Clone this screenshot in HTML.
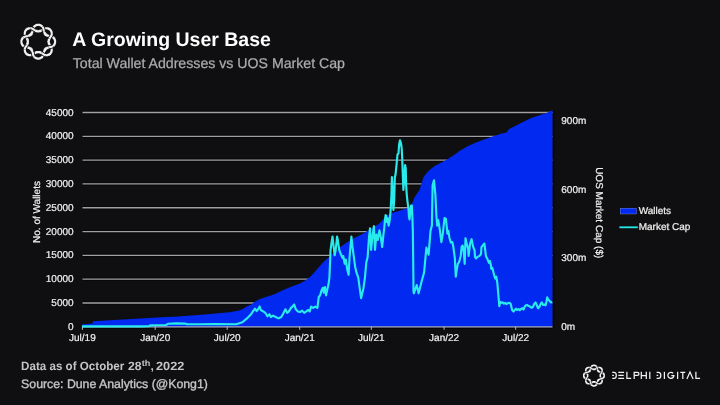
<!DOCTYPE html>
<html><head><meta charset="utf-8">
<style>
html,body{margin:0;padding:0;background:#101012;}
body{width:720px;height:405px;overflow:hidden;position:relative;font-family:"Liberation Sans",sans-serif;}
svg{position:absolute;left:0;top:0;will-change:transform;opacity:0.999;filter:blur(0.25px);}
</style></head>
<body>
<svg width="720" height="405" viewBox="0 0 720 405" font-family="Liberation Sans, sans-serif" text-rendering="geometricPrecision">
<rect width="720" height="405" fill="#101012"/>
<!-- logo -->
<polyline points="38.2,24.8 38.4,24.8 38.5,24.8 38.6,24.8 38.7,24.8 38.8,24.8 38.9,24.8 39.0,24.9 39.1,24.9 39.2,24.9 39.3,24.9 39.5,24.9 39.6,25.0 39.7,25.0 39.8,25.0 39.9,25.1 40.0,25.1 40.1,25.1 40.2,25.2 40.3,25.2 40.4,25.3 40.5,25.3 40.6,25.4 40.7,25.4 40.8,25.5 40.9,25.5 41.0,25.6 41.1,25.7 41.2,25.7 41.3,25.8 41.4,25.9 41.5,25.9 41.6,26.0 41.7,26.1 41.8,26.2 41.9,26.2 41.9,26.3 42.0,26.4 42.1,26.5 42.2,26.6 42.3,26.7 42.4,26.8 42.4,26.9 42.5,27.0 42.6,27.0 42.7,27.1 42.7,27.3 42.8,27.4 42.9,27.5 42.9,27.6 43.0,27.7 43.1,27.8 43.1,27.9 43.2,28.0 43.2,28.2 43.3,28.3 43.3,28.4 43.4,28.6 43.4,28.7 43.5,28.9 43.5,29.1 43.5,29.4 43.5,29.5 43.5,29.7 43.5,29.8 43.6,30.0 43.6,30.1 43.6,30.2 43.7,30.3 43.7,30.5 43.7,30.6 43.8,30.7 43.8,30.8 43.8,30.9 43.9,31.0 43.9,31.1 43.9,31.2 44.0,31.3 44.0,31.4 44.0,31.5 44.1,31.6 44.1,31.7 44.1,31.8 44.2,31.9 44.2,32.0 44.2,32.1 44.3,32.2 44.3,32.3 44.3,32.3 44.4,32.4 44.4,32.5 44.4,32.6 44.5,32.7 44.5,32.7 44.5,32.8 44.6,32.9 44.6,33.0 44.6,33.0 44.7,33.1 44.7,33.2 44.7,33.3 44.8,33.3 44.8,33.4 44.8,33.5 44.9,33.5 44.9,33.6 44.9,33.7 45.0,33.7 45.0,33.8 45.1,33.8 45.1,33.9 45.1,33.9 45.2,34.0 45.2,34.1 45.3,34.1 45.3,34.2 45.3,34.2 45.4,34.3 45.4,34.3 45.5,34.4 45.5,34.4 45.6,34.5 45.6,34.5 45.7,34.6 45.7,34.6 45.8,34.6 45.8,34.7 45.9,34.7 45.9,34.8 46.0,34.8 46.1,34.9 46.1,34.9 46.2,34.9 46.2,35.0 46.3,35.0 46.4,35.0 46.4,35.1 46.5,35.1 46.6,35.2 46.6,35.2 46.7,35.2 46.8,35.3 46.8,35.3 46.9,35.3 47.0,35.4 47.0,35.4 47.1,35.4 47.2,35.5 47.3,35.5 47.4,35.5 47.4,35.6 47.5,35.6 47.6,35.6 47.7,35.7 47.8,35.7 47.9,35.7 48.0,35.8 48.0,35.8 48.1,35.8 48.2,35.8 48.3,35.9 48.4,35.9 48.5,35.9 48.6,36.0 48.7,36.0 48.8,36.0 48.9,36.1 49.0,36.1 49.1,36.1 49.3,36.2 49.4,36.2 49.5,36.2 49.6,36.3 49.7,36.3 49.9,36.3 50.0,36.4 50.1,36.4 50.3,36.4 50.4,36.5 50.6,36.5 50.8,36.5 51.0,36.5 51.2,36.5 51.4,36.6 51.5,36.6 51.6,36.7 51.8,36.7 51.9,36.8 52.0,36.8 52.1,36.9 52.3,36.9 52.4,37.0 52.5,37.1 52.6,37.1 52.7,37.2 52.8,37.3 52.9,37.4 53.0,37.4 53.1,37.5 53.2,37.6 53.3,37.7 53.4,37.8 53.5,37.8 53.5,37.9 53.6,38.0 53.7,38.1 53.8,38.2 53.9,38.3 53.9,38.4 54.0,38.5 54.1,38.6 54.2,38.6 54.2,38.7 54.3,38.8 54.3,38.9 54.4,39.0 54.5,39.1 54.5,39.2 54.6,39.3 54.6,39.4 54.7,39.5 54.7,39.6 54.8,39.7 54.8,39.9 54.8,40.0 54.9,40.1 54.9,40.2 54.9,40.3 55.0,40.4 55.0,40.5 55.0,40.6 55.1,40.7 55.1,40.8 55.1,40.9 55.1,41.0 55.1,41.1 55.1,41.3 55.1,41.4 55.1,41.5 55.1,41.6 55.1,41.7 55.1,41.8 55.1,41.9 55.1,42.0 55.1,42.1 55.1,42.3 55.1,42.4 55.1,42.5 55.1,42.6 55.1,42.7 55.0,42.8 55.0,42.9 55.0,43.0 54.9,43.1 54.9,43.2 54.9,43.3 54.8,43.4 54.8,43.5 54.8,43.7 54.7,43.8 54.7,43.9 54.6,44.0 54.6,44.1 54.5,44.2 54.5,44.3 54.4,44.4 54.3,44.5 54.3,44.6 54.2,44.7 54.2,44.8 54.1,44.8 54.0,44.9 53.9,45.0 53.9,45.1 53.8,45.2 53.7,45.3 53.6,45.4 53.5,45.5 53.5,45.6 53.4,45.6 53.3,45.7 53.2,45.8 53.1,45.9 53.0,46.0 52.9,46.0 52.8,46.1 52.7,46.2 52.6,46.3 52.5,46.3 52.4,46.4 52.3,46.5 52.1,46.5 52.0,46.6 51.9,46.6 51.8,46.7 51.6,46.7 51.5,46.8 51.4,46.8 51.2,46.9 51.0,46.9 50.8,46.9 50.6,46.9 50.4,46.9 50.3,47.0 50.1,47.0 50.0,47.0 49.9,47.1 49.7,47.1 49.6,47.1 49.5,47.2 49.4,47.2 49.3,47.2 49.1,47.3 49.0,47.3 48.9,47.3 48.8,47.4 48.7,47.4 48.6,47.4 48.5,47.5 48.4,47.5 48.3,47.5 48.2,47.6 48.1,47.6 48.0,47.6 48.0,47.6 47.9,47.7 47.8,47.7 47.7,47.7 47.6,47.8 47.5,47.8 47.4,47.8 47.4,47.9 47.3,47.9 47.2,47.9 47.1,48.0 47.0,48.0 47.0,48.0 46.9,48.1 46.8,48.1 46.8,48.1 46.7,48.2 46.6,48.2 46.6,48.2 46.5,48.3 46.4,48.3 46.4,48.4 46.3,48.4 46.2,48.4 46.2,48.5 46.1,48.5 46.1,48.5 46.0,48.6 45.9,48.6 45.9,48.7 45.8,48.7 45.8,48.8 45.7,48.8 45.7,48.8 45.6,48.9 45.6,48.9 45.5,49.0 45.5,49.0 45.4,49.1 45.4,49.1 45.3,49.2 45.3,49.2 45.3,49.3 45.2,49.3 45.2,49.4 45.1,49.5 45.1,49.5 45.1,49.6 45.0,49.6 45.0,49.7 44.9,49.7 44.9,49.8 44.9,49.9 44.8,49.9 44.8,50.0 44.8,50.1 44.7,50.1 44.7,50.2 44.7,50.3 44.6,50.4 44.6,50.4 44.6,50.5 44.5,50.6 44.5,50.7 44.5,50.7 44.4,50.8 44.4,50.9 44.4,51.0 44.3,51.1 44.3,51.1 44.3,51.2 44.2,51.3 44.2,51.4 44.2,51.5 44.1,51.6 44.1,51.7 44.1,51.8 44.0,51.9 44.0,52.0 44.0,52.1 43.9,52.2 43.9,52.3 43.9,52.4 43.8,52.5 43.8,52.6 43.8,52.7 43.7,52.8 43.7,52.9 43.7,53.1 43.6,53.2 43.6,53.3 43.6,53.4 43.5,53.6 43.5,53.7 43.5,53.9 43.5,54.0 43.5,54.3 43.5,54.5 43.4,54.7 43.4,54.8 43.3,55.0 43.3,55.1 43.2,55.2 43.2,55.4 43.1,55.5 43.1,55.6 43.0,55.7 42.9,55.8 42.9,55.9 42.8,56.0 42.7,56.1 42.7,56.3 42.6,56.4 42.5,56.4 42.4,56.5 42.4,56.6 42.3,56.7 42.2,56.8 42.1,56.9 42.0,57.0 41.9,57.1 41.9,57.2 41.8,57.2 41.7,57.3 41.6,57.4 41.5,57.5 41.4,57.5 41.3,57.6 41.2,57.7 41.1,57.7 41.0,57.8 40.9,57.9 40.8,57.9 40.7,58.0 40.6,58.0 40.5,58.1 40.4,58.1 40.3,58.2 40.2,58.2 40.1,58.3 40.0,58.3 39.9,58.3 39.8,58.4 39.7,58.4 39.6,58.4 39.5,58.5 39.3,58.5 39.2,58.5 39.1,58.5 39.0,58.5 38.9,58.6 38.8,58.6 38.7,58.6 38.6,58.6 38.5,58.6 38.4,58.6 38.3,58.6 38.1,58.6 38.0,58.6 37.9,58.6 37.8,58.6 37.7,58.6 37.6,58.6 37.5,58.5 37.4,58.5 37.3,58.5 37.2,58.5 37.0,58.5 36.9,58.4 36.8,58.4 36.7,58.4 36.6,58.3 36.5,58.3 36.4,58.3 36.3,58.2 36.2,58.2 36.1,58.1 36.0,58.1 35.9,58.0 35.8,58.0 35.7,57.9 35.6,57.9 35.5,57.8 35.4,57.7 35.3,57.7 35.2,57.6 35.1,57.5 35.0,57.5 34.9,57.4 34.8,57.3 34.7,57.2 34.6,57.2 34.6,57.1 34.5,57.0 34.4,56.9 34.3,56.8 34.2,56.7 34.1,56.6 34.1,56.5 34.0,56.4 33.9,56.4 33.8,56.3 33.8,56.1 33.7,56.0 33.6,55.9 33.6,55.8 33.5,55.7 33.4,55.6 33.4,55.5 33.3,55.4 33.3,55.2 33.2,55.1 33.2,55.0 33.1,54.8 33.1,54.7 33.0,54.5 33.0,54.3 33.0,54.0 33.0,53.9 33.0,53.7 33.0,53.6 32.9,53.4 32.9,53.3 32.9,53.2 32.8,53.1 32.8,52.9 32.8,52.8 32.7,52.7 32.7,52.6 32.7,52.5 32.6,52.4 32.6,52.3 32.6,52.2 32.5,52.1 32.5,52.0 32.5,51.9 32.4,51.8 32.4,51.7 32.4,51.6 32.3,51.5 32.3,51.4 32.3,51.3 32.2,51.2 32.2,51.1 32.2,51.1 32.1,51.0 32.1,50.9 32.1,50.8 32.0,50.7 32.0,50.7 32.0,50.6 31.9,50.5 31.9,50.4 31.9,50.4 31.8,50.3 31.8,50.2 31.8,50.1 31.7,50.1 31.7,50.0 31.7,49.9 31.6,49.9 31.6,49.8 31.6,49.7 31.5,49.7 31.5,49.6 31.4,49.6 31.4,49.5 31.4,49.5 31.3,49.4 31.3,49.3 31.2,49.3 31.2,49.2 31.2,49.2 31.1,49.1 31.1,49.1 31.0,49.0 31.0,49.0 30.9,48.9 30.9,48.9 30.8,48.8 30.8,48.8 30.7,48.8 30.7,48.7 30.6,48.7 30.6,48.6 30.5,48.6 30.4,48.5 30.4,48.5 30.3,48.5 30.3,48.4 30.2,48.4 30.1,48.4 30.1,48.3 30.0,48.3 29.9,48.2 29.9,48.2 29.8,48.2 29.7,48.1 29.7,48.1 29.6,48.1 29.5,48.0 29.5,48.0 29.4,48.0 29.3,47.9 29.2,47.9 29.1,47.9 29.1,47.8 29.0,47.8 28.9,47.8 28.8,47.7 28.7,47.7 28.6,47.7 28.5,47.6 28.5,47.6 28.4,47.6 28.3,47.6 28.2,47.5 28.1,47.5 28.0,47.5 27.9,47.4 27.8,47.4 27.7,47.4 27.6,47.3 27.5,47.3 27.4,47.3 27.2,47.2 27.1,47.2 27.0,47.2 26.9,47.1 26.8,47.1 26.6,47.1 26.5,47.0 26.4,47.0 26.2,47.0 26.1,46.9 25.9,46.9 25.7,46.9 25.5,46.9 25.3,46.9 25.1,46.8 25.0,46.8 24.9,46.7 24.7,46.7 24.6,46.6 24.5,46.6 24.4,46.5 24.2,46.5 24.1,46.4 24.0,46.3 23.9,46.3 23.8,46.2 23.7,46.1 23.6,46.0 23.5,46.0 23.4,45.9 23.3,45.8 23.2,45.7 23.1,45.6 23.0,45.6 23.0,45.5 22.9,45.4 22.8,45.3 22.7,45.2 22.6,45.1 22.6,45.0 22.5,44.9 22.4,44.8 22.3,44.8 22.3,44.7 22.2,44.6 22.2,44.5 22.1,44.4 22.0,44.3 22.0,44.2 21.9,44.1 21.9,44.0 21.8,43.9 21.8,43.8 21.7,43.7 21.7,43.5 21.7,43.4 21.6,43.3 21.6,43.2 21.6,43.1 21.5,43.0 21.5,42.9 21.5,42.8 21.4,42.7 21.4,42.6 21.4,42.5 21.4,42.4 21.4,42.3 21.4,42.1 21.4,42.0 21.4,41.9 21.4,41.8 21.4,41.7 21.4,41.6 21.4,41.5 21.4,41.4 21.4,41.3 21.4,41.1 21.4,41.0 21.4,40.9 21.4,40.8 21.4,40.7 21.5,40.6 21.5,40.5 21.5,40.4 21.6,40.3 21.6,40.2 21.6,40.1 21.7,40.0 21.7,39.9 21.7,39.7 21.8,39.6 21.8,39.5 21.9,39.4 21.9,39.3 22.0,39.2 22.0,39.1 22.1,39.0 22.2,38.9 22.2,38.8 22.3,38.7 22.3,38.6 22.4,38.6 22.5,38.5 22.6,38.4 22.6,38.3 22.7,38.2 22.8,38.1 22.9,38.0 23.0,37.9 23.0,37.8 23.1,37.8 23.2,37.7 23.3,37.6 23.4,37.5 23.5,37.4 23.6,37.4 23.7,37.3 23.8,37.2 23.9,37.1 24.0,37.1 24.1,37.0 24.2,36.9 24.4,36.9 24.5,36.8 24.6,36.8 24.7,36.7 24.9,36.7 25.0,36.6 25.1,36.6 25.3,36.5 25.5,36.5 25.7,36.5 25.9,36.5 26.1,36.5 26.2,36.4 26.4,36.4 26.5,36.4 26.6,36.3 26.8,36.3 26.9,36.3 27.0,36.2 27.1,36.2 27.2,36.2 27.4,36.1 27.5,36.1 27.6,36.1 27.7,36.0 27.8,36.0 27.9,36.0 28.0,35.9 28.1,35.9 28.2,35.9 28.3,35.8 28.4,35.8 28.5,35.8 28.5,35.8 28.6,35.7 28.7,35.7 28.8,35.7 28.9,35.6 29.0,35.6 29.1,35.6 29.1,35.5 29.2,35.5 29.3,35.5 29.4,35.4 29.5,35.4 29.5,35.4 29.6,35.3 29.7,35.3 29.7,35.3 29.8,35.2 29.9,35.2 29.9,35.2 30.0,35.1 30.1,35.1 30.1,35.0 30.2,35.0 30.3,35.0 30.3,34.9 30.4,34.9 30.4,34.9 30.5,34.8 30.6,34.8 30.6,34.7 30.7,34.7 30.7,34.6 30.8,34.6 30.8,34.6 30.9,34.5 30.9,34.5 31.0,34.4 31.0,34.4 31.1,34.3 31.1,34.3 31.2,34.2 31.2,34.2 31.2,34.1 31.3,34.1 31.3,34.0 31.4,33.9 31.4,33.9 31.4,33.8 31.5,33.8 31.5,33.7 31.6,33.7 31.6,33.6 31.6,33.5 31.7,33.5 31.7,33.4 31.7,33.3 31.8,33.3 31.8,33.2 31.8,33.1 31.9,33.0 31.9,33.0 31.9,32.9 32.0,32.8 32.0,32.7 32.0,32.7 32.1,32.6 32.1,32.5 32.1,32.4 32.2,32.3 32.2,32.3 32.2,32.2 32.3,32.1 32.3,32.0 32.3,31.9 32.4,31.8 32.4,31.7 32.4,31.6 32.5,31.5 32.5,31.4 32.5,31.3 32.6,31.2 32.6,31.1 32.6,31.0 32.7,30.9 32.7,30.8 32.7,30.7 32.8,30.6 32.8,30.5 32.8,30.3 32.9,30.2 32.9,30.1 32.9,30.0 33.0,29.8 33.0,29.7 33.0,29.5 33.0,29.4 33.0,29.1 33.0,28.9 33.1,28.7 33.1,28.6 33.2,28.4 33.2,28.3 33.3,28.2 33.3,28.0 33.4,27.9 33.4,27.8 33.5,27.7 33.6,27.6 33.6,27.5 33.7,27.4 33.8,27.3 33.8,27.1 33.9,27.0 34.0,27.0 34.1,26.9 34.1,26.8 34.2,26.7 34.3,26.6 34.4,26.5 34.5,26.4 34.6,26.3 34.6,26.2 34.7,26.2 34.8,26.1 34.9,26.0 35.0,25.9 35.1,25.9 35.2,25.8 35.3,25.7 35.4,25.7 35.5,25.6 35.6,25.5 35.7,25.5 35.8,25.4 35.9,25.4 36.0,25.3 36.1,25.3 36.2,25.2 36.3,25.2 36.4,25.1 36.5,25.1 36.6,25.1 36.7,25.0 36.8,25.0 36.9,25.0 37.0,24.9 37.2,24.9 37.3,24.9 37.4,24.9 37.5,24.9 37.6,24.8 37.7,24.8 37.8,24.8 37.9,24.8 38.0,24.8 38.1,24.8 38.2,24.8" fill="none" stroke="#f2f2f2" stroke-width="2.1"/>
<polyline points="38.2,31.4 38.3,31.4 38.4,31.4 38.5,31.4 38.5,31.4 38.6,31.4 38.7,31.4 38.7,31.4 38.8,31.4 38.9,31.3 38.9,31.3 39.0,31.3 39.1,31.3 39.1,31.3 39.2,31.3 39.3,31.3 39.3,31.2 39.4,31.2 39.5,31.2 39.6,31.2 39.6,31.2 39.7,31.1 39.8,31.1 39.9,31.1 39.9,31.0 40.0,31.0 40.1,31.0 40.2,31.0 40.2,30.9 40.3,30.9 40.4,30.9 40.5,30.8 40.6,30.8 40.7,30.7 40.7,30.7 40.8,30.7 40.9,30.6 41.0,30.6 41.1,30.5 41.2,30.5 41.3,30.5 41.4,30.4 41.4,30.4 41.5,30.3 41.6,30.3 41.7,30.2 41.8,30.2 41.9,30.1 42.0,30.1 42.1,30.0 42.2,30.0 42.3,29.9 42.5,29.8 42.6,29.8 42.7,29.7 42.8,29.6 42.9,29.6 43.0,29.5 43.2,29.4 43.3,29.3 43.5,29.1 43.6,29.0 43.8,28.9 43.9,28.8 44.0,28.7 44.2,28.7 44.3,28.6 44.4,28.6 44.5,28.5 44.7,28.5 44.8,28.4 44.9,28.4 45.0,28.4 45.2,28.3 45.3,28.3 45.4,28.3 45.5,28.3 45.7,28.3 45.8,28.2 45.9,28.2 46.0,28.2 46.2,28.2 46.3,28.2 46.4,28.2 46.5,28.2 46.6,28.2 46.8,28.2 46.9,28.2 47.0,28.2 47.1,28.3 47.2,28.3 47.3,28.3 47.4,28.3 47.6,28.3 47.7,28.4 47.8,28.4 47.9,28.4 48.0,28.5 48.1,28.5 48.2,28.5 48.3,28.6 48.4,28.6 48.5,28.6 48.6,28.7 48.7,28.7 48.9,28.8 49.0,28.8 49.0,28.9 49.1,28.9 49.2,29.0 49.3,29.1 49.4,29.1 49.5,29.2 49.6,29.2 49.7,29.3 49.8,29.4 49.9,29.5 50.0,29.5 50.0,29.6 50.1,29.7 50.2,29.7 50.3,29.8 50.4,29.9 50.4,30.0 50.5,30.1 50.6,30.2 50.6,30.2 50.7,30.3 50.8,30.4 50.8,30.5 50.9,30.6 51.0,30.7 51.0,30.8 51.1,30.9 51.1,31.0 51.2,31.1 51.2,31.2 51.3,31.3 51.3,31.4 51.3,31.5 51.4,31.6 51.4,31.7 51.5,31.8 51.5,31.9 51.5,32.1 51.6,32.2 51.6,32.3 51.6,32.4 51.6,32.5 51.7,32.6 51.7,32.7 51.7,32.8 51.7,33.0 51.7,33.1 51.7,33.2 51.7,33.3 51.7,33.4 51.7,33.6 51.7,33.7 51.7,33.8 51.7,33.9 51.7,34.0 51.7,34.2 51.7,34.3 51.7,34.4 51.7,34.5 51.6,34.7 51.6,34.8 51.6,34.9 51.6,35.0 51.5,35.2 51.5,35.3 51.4,35.4 51.4,35.5 51.3,35.7 51.3,35.8 51.2,35.9 51.2,36.1 51.1,36.2 51.0,36.3 50.8,36.5 50.6,36.7 50.5,36.8 50.5,36.9 50.4,37.0 50.3,37.2 50.2,37.3 50.2,37.4 50.1,37.5 50.1,37.6 50.0,37.7 49.9,37.8 49.9,37.9 49.8,38.0 49.8,38.1 49.7,38.2 49.7,38.3 49.6,38.4 49.6,38.5 49.5,38.6 49.5,38.7 49.4,38.8 49.4,38.9 49.4,39.0 49.3,39.0 49.3,39.1 49.2,39.2 49.2,39.3 49.2,39.4 49.1,39.5 49.1,39.5 49.1,39.6 49.0,39.7 49.0,39.8 49.0,39.9 48.9,39.9 48.9,40.0 48.9,40.1 48.8,40.2 48.8,40.2 48.8,40.3 48.8,40.4 48.8,40.5 48.7,40.5 48.7,40.6 48.7,40.7 48.7,40.7 48.7,40.8 48.6,40.9 48.6,41.0 48.6,41.0 48.6,41.1 48.6,41.2 48.6,41.2 48.6,41.3 48.6,41.4 48.6,41.4 48.6,41.5 48.6,41.6 48.6,41.6 48.5,41.7 48.6,41.8 48.6,41.8 48.6,41.9 48.6,42.0 48.6,42.0 48.6,42.1 48.6,42.2 48.6,42.2 48.6,42.3 48.6,42.4 48.6,42.4 48.6,42.5 48.7,42.6 48.7,42.7 48.7,42.7 48.7,42.8 48.7,42.9 48.8,42.9 48.8,43.0 48.8,43.1 48.8,43.2 48.8,43.2 48.9,43.3 48.9,43.4 48.9,43.5 49.0,43.5 49.0,43.6 49.0,43.7 49.1,43.8 49.1,43.9 49.1,43.9 49.2,44.0 49.2,44.1 49.2,44.2 49.3,44.3 49.3,44.4 49.4,44.4 49.4,44.5 49.4,44.6 49.5,44.7 49.5,44.8 49.6,44.9 49.6,45.0 49.7,45.1 49.7,45.2 49.8,45.3 49.8,45.4 49.9,45.5 49.9,45.6 50.0,45.7 50.1,45.8 50.1,45.9 50.2,46.0 50.2,46.1 50.3,46.2 50.4,46.4 50.5,46.5 50.5,46.6 50.6,46.7 50.8,46.9 51.0,47.1 51.1,47.2 51.2,47.3 51.2,47.5 51.3,47.6 51.3,47.7 51.4,47.9 51.4,48.0 51.5,48.1 51.5,48.2 51.6,48.4 51.6,48.5 51.6,48.6 51.6,48.7 51.7,48.9 51.7,49.0 51.7,49.1 51.7,49.2 51.7,49.4 51.7,49.5 51.7,49.6 51.7,49.7 51.7,49.8 51.7,50.0 51.7,50.1 51.7,50.2 51.7,50.3 51.7,50.4 51.7,50.6 51.7,50.7 51.7,50.8 51.6,50.9 51.6,51.0 51.6,51.1 51.6,51.2 51.5,51.3 51.5,51.5 51.5,51.6 51.4,51.7 51.4,51.8 51.3,51.9 51.3,52.0 51.3,52.1 51.2,52.2 51.2,52.3 51.1,52.4 51.1,52.5 51.0,52.6 51.0,52.7 50.9,52.8 50.8,52.9 50.8,53.0 50.7,53.1 50.6,53.2 50.6,53.2 50.5,53.3 50.4,53.4 50.4,53.5 50.3,53.6 50.2,53.7 50.1,53.7 50.0,53.8 50.0,53.9 49.9,53.9 49.8,54.0 49.7,54.1 49.6,54.2 49.5,54.2 49.4,54.3 49.3,54.3 49.2,54.4 49.1,54.5 49.0,54.5 49.0,54.6 48.9,54.6 48.7,54.7 48.6,54.7 48.5,54.8 48.4,54.8 48.3,54.8 48.2,54.9 48.1,54.9 48.0,54.9 47.9,55.0 47.8,55.0 47.7,55.0 47.6,55.1 47.4,55.1 47.3,55.1 47.2,55.1 47.1,55.1 47.0,55.2 46.9,55.2 46.8,55.2 46.6,55.2 46.5,55.2 46.4,55.2 46.3,55.2 46.2,55.2 46.0,55.2 45.9,55.2 45.8,55.2 45.7,55.1 45.5,55.1 45.4,55.1 45.3,55.1 45.2,55.1 45.0,55.0 44.9,55.0 44.8,55.0 44.7,54.9 44.5,54.9 44.4,54.8 44.3,54.8 44.2,54.7 44.0,54.7 43.9,54.6 43.8,54.5 43.6,54.4 43.5,54.3 43.3,54.1 43.2,54.0 43.0,53.9 42.9,53.8 42.8,53.8 42.7,53.7 42.6,53.6 42.5,53.6 42.3,53.5 42.2,53.4 42.1,53.4 42.0,53.3 41.9,53.3 41.8,53.2 41.7,53.2 41.6,53.1 41.5,53.1 41.4,53.0 41.4,53.0 41.3,52.9 41.2,52.9 41.1,52.9 41.0,52.8 40.9,52.8 40.8,52.7 40.7,52.7 40.7,52.7 40.6,52.6 40.5,52.6 40.4,52.5 40.3,52.5 40.2,52.5 40.2,52.4 40.1,52.4 40.0,52.4 39.9,52.4 39.9,52.3 39.8,52.3 39.7,52.3 39.6,52.2 39.6,52.2 39.5,52.2 39.4,52.2 39.3,52.2 39.3,52.1 39.2,52.1 39.1,52.1 39.1,52.1 39.0,52.1 38.9,52.1 38.9,52.1 38.8,52.0 38.7,52.0 38.7,52.0 38.6,52.0 38.5,52.0 38.5,52.0 38.4,52.0 38.3,52.0 38.3,52.0 38.2,52.0 38.1,52.0 38.0,52.0 38.0,52.0 37.9,52.0 37.8,52.0 37.8,52.0 37.7,52.0 37.6,52.1 37.6,52.1 37.5,52.1 37.4,52.1 37.4,52.1 37.3,52.1 37.2,52.1 37.2,52.2 37.1,52.2 37.0,52.2 36.9,52.2 36.9,52.2 36.8,52.3 36.7,52.3 36.6,52.3 36.6,52.4 36.5,52.4 36.4,52.4 36.3,52.4 36.3,52.5 36.2,52.5 36.1,52.5 36.0,52.6 35.9,52.6 35.8,52.7 35.8,52.7 35.7,52.7 35.6,52.8 35.5,52.8 35.4,52.9 35.3,52.9 35.2,52.9 35.1,53.0 35.1,53.0 35.0,53.1 34.9,53.1 34.8,53.2 34.7,53.2 34.6,53.3 34.5,53.3 34.4,53.4 34.3,53.4 34.2,53.5 34.0,53.6 33.9,53.6 33.8,53.7 33.7,53.8 33.6,53.8 33.5,53.9 33.3,54.0 33.2,54.1 33.0,54.3 32.9,54.4 32.7,54.5 32.6,54.6 32.5,54.7 32.3,54.7 32.2,54.8 32.1,54.8 32.0,54.9 31.8,54.9 31.7,55.0 31.6,55.0 31.5,55.0 31.3,55.1 31.2,55.1 31.1,55.1 31.0,55.1 30.8,55.1 30.7,55.2 30.6,55.2 30.5,55.2 30.3,55.2 30.2,55.2 30.1,55.2 30.0,55.2 29.9,55.2 29.7,55.2 29.6,55.2 29.5,55.2 29.4,55.1 29.3,55.1 29.2,55.1 29.1,55.1 28.9,55.1 28.8,55.0 28.7,55.0 28.6,55.0 28.5,54.9 28.4,54.9 28.3,54.9 28.2,54.8 28.1,54.8 28.0,54.8 27.9,54.7 27.8,54.7 27.6,54.6 27.5,54.6 27.5,54.5 27.4,54.5 27.3,54.4 27.2,54.3 27.1,54.3 27.0,54.2 26.9,54.2 26.8,54.1 26.7,54.0 26.6,53.9 26.5,53.9 26.5,53.8 26.4,53.7 26.3,53.7 26.2,53.6 26.1,53.5 26.1,53.4 26.0,53.3 25.9,53.2 25.9,53.2 25.8,53.1 25.7,53.0 25.7,52.9 25.6,52.8 25.5,52.7 25.5,52.6 25.4,52.5 25.4,52.4 25.3,52.3 25.3,52.2 25.2,52.1 25.2,52.0 25.2,51.9 25.1,51.8 25.1,51.7 25.0,51.6 25.0,51.5 25.0,51.3 24.9,51.2 24.9,51.1 24.9,51.0 24.9,50.9 24.8,50.8 24.8,50.7 24.8,50.6 24.8,50.4 24.8,50.3 24.8,50.2 24.8,50.1 24.8,50.0 24.8,49.8 24.8,49.7 24.8,49.6 24.8,49.5 24.8,49.4 24.8,49.2 24.8,49.1 24.8,49.0 24.8,48.9 24.9,48.7 24.9,48.6 24.9,48.5 24.9,48.4 25.0,48.2 25.0,48.1 25.1,48.0 25.1,47.9 25.2,47.7 25.2,47.6 25.3,47.5 25.3,47.3 25.4,47.2 25.5,47.1 25.7,46.9 25.9,46.7 26.0,46.6 26.0,46.5 26.1,46.4 26.2,46.2 26.3,46.1 26.3,46.0 26.4,45.9 26.4,45.8 26.5,45.7 26.6,45.6 26.6,45.5 26.7,45.4 26.7,45.3 26.8,45.2 26.8,45.1 26.9,45.0 26.9,44.9 27.0,44.8 27.0,44.7 27.1,44.6 27.1,44.5 27.1,44.4 27.2,44.4 27.2,44.3 27.3,44.2 27.3,44.1 27.3,44.0 27.4,43.9 27.4,43.9 27.4,43.8 27.5,43.7 27.5,43.6 27.5,43.5 27.6,43.5 27.6,43.4 27.6,43.3 27.7,43.2 27.7,43.2 27.7,43.1 27.7,43.0 27.7,42.9 27.8,42.9 27.8,42.8 27.8,42.7 27.8,42.7 27.8,42.6 27.9,42.5 27.9,42.4 27.9,42.4 27.9,42.3 27.9,42.2 27.9,42.2 27.9,42.1 27.9,42.0 27.9,42.0 27.9,41.9 27.9,41.8 27.9,41.8 27.9,41.7 27.9,41.6 27.9,41.6 27.9,41.5 27.9,41.4 27.9,41.4 27.9,41.3 27.9,41.2 27.9,41.2 27.9,41.1 27.9,41.0 27.9,41.0 27.9,40.9 27.8,40.8 27.8,40.7 27.8,40.7 27.8,40.6 27.8,40.5 27.7,40.5 27.7,40.4 27.7,40.3 27.7,40.2 27.7,40.2 27.6,40.1 27.6,40.0 27.6,39.9 27.5,39.9 27.5,39.8 27.5,39.7 27.4,39.6 27.4,39.5 27.4,39.5 27.3,39.4 27.3,39.3 27.3,39.2 27.2,39.1 27.2,39.0 27.1,39.0 27.1,38.9 27.1,38.8 27.0,38.7 27.0,38.6 26.9,38.5 26.9,38.4 26.8,38.3 26.8,38.2 26.7,38.1 26.7,38.0 26.6,37.9 26.6,37.8 26.5,37.7 26.4,37.6 26.4,37.5 26.3,37.4 26.3,37.3 26.2,37.2 26.1,37.0 26.0,36.9 26.0,36.8 25.9,36.7 25.7,36.5 25.5,36.3 25.4,36.2 25.3,36.1 25.3,35.9 25.2,35.8 25.2,35.7 25.1,35.5 25.1,35.4 25.0,35.3 25.0,35.2 24.9,35.0 24.9,34.9 24.9,34.8 24.9,34.7 24.8,34.5 24.8,34.4 24.8,34.3 24.8,34.2 24.8,34.0 24.8,33.9 24.8,33.8 24.8,33.7 24.8,33.6 24.8,33.4 24.8,33.3 24.8,33.2 24.8,33.1 24.8,33.0 24.8,32.8 24.8,32.7 24.8,32.6 24.9,32.5 24.9,32.4 24.9,32.3 24.9,32.2 25.0,32.1 25.0,31.9 25.0,31.8 25.1,31.7 25.1,31.6 25.2,31.5 25.2,31.4 25.2,31.3 25.3,31.2 25.3,31.1 25.4,31.0 25.4,30.9 25.5,30.8 25.5,30.7 25.6,30.6 25.7,30.5 25.7,30.4 25.8,30.3 25.9,30.2 25.9,30.2 26.0,30.1 26.1,30.0 26.1,29.9 26.2,29.8 26.3,29.7 26.4,29.7 26.5,29.6 26.5,29.5 26.6,29.5 26.7,29.4 26.8,29.3 26.9,29.2 27.0,29.2 27.1,29.1 27.2,29.1 27.3,29.0 27.4,28.9 27.5,28.9 27.5,28.8 27.6,28.8 27.8,28.7 27.9,28.7 28.0,28.6 28.1,28.6 28.2,28.6 28.3,28.5 28.4,28.5 28.5,28.5 28.6,28.4 28.7,28.4 28.8,28.4 28.9,28.3 29.1,28.3 29.2,28.3 29.3,28.3 29.4,28.3 29.5,28.2 29.6,28.2 29.7,28.2 29.9,28.2 30.0,28.2 30.1,28.2 30.2,28.2 30.3,28.2 30.5,28.2 30.6,28.2 30.7,28.2 30.8,28.3 31.0,28.3 31.1,28.3 31.2,28.3 31.3,28.3 31.5,28.4 31.6,28.4 31.7,28.4 31.8,28.5 32.0,28.5 32.1,28.6 32.2,28.6 32.3,28.7 32.5,28.7 32.6,28.8 32.7,28.9 32.9,29.0 33.0,29.1 33.2,29.3 33.3,29.4 33.5,29.5 33.6,29.6 33.7,29.6 33.8,29.7 33.9,29.8 34.0,29.8 34.2,29.9 34.3,30.0 34.4,30.0 34.5,30.1 34.6,30.1 34.7,30.2 34.8,30.2 34.9,30.3 35.0,30.3 35.1,30.4 35.1,30.4 35.2,30.5 35.3,30.5 35.4,30.5 35.5,30.6 35.6,30.6 35.7,30.7 35.8,30.7 35.8,30.7 35.9,30.8 36.0,30.8 36.1,30.9 36.2,30.9 36.3,30.9 36.3,31.0 36.4,31.0 36.5,31.0 36.6,31.0 36.6,31.1 36.7,31.1 36.8,31.1 36.9,31.2 36.9,31.2 37.0,31.2 37.1,31.2 37.2,31.2 37.2,31.3 37.3,31.3 37.4,31.3 37.4,31.3 37.5,31.3 37.6,31.3 37.6,31.3 37.7,31.4 37.8,31.4 37.8,31.4 37.9,31.4 38.0,31.4 38.0,31.4 38.1,31.4 38.2,31.4 38.2,31.4" fill="none" stroke="#f2f2f2" stroke-width="2.1"/>
<polyline points="42.4,26.8 42.6,27.0 42.7,27.2 42.8,27.4 42.9,27.6 43.1,27.8 43.2,28.0 43.3,28.2 43.4,28.5 43.4,28.8 43.5,29.1 43.5,29.5 43.5,29.8 43.6,30.0 43.6,30.3 43.7,30.5 43.8,30.7 43.8,30.9 43.9,31.1 44.0,31.3 44.0,31.5" fill="none" stroke="#101012" stroke-width="3.7"/>
<polyline points="42.4,26.8 42.6,27.0 42.7,27.2 42.8,27.4 42.9,27.6 43.1,27.8 43.2,28.0 43.3,28.2 43.4,28.5 43.4,28.8 43.5,29.1 43.5,29.5 43.5,29.8 43.6,30.0 43.6,30.3 43.7,30.5 43.8,30.7 43.8,30.9 43.9,31.1 44.0,31.3 44.0,31.5" fill="none" stroke="#f2f2f2" stroke-width="2.1"/>
<polyline points="51.7,34.1 51.7,34.3 51.7,34.6 51.6,34.8 51.6,35.0 51.5,35.3 51.4,35.5 51.3,35.7 51.2,36.0 51.1,36.2 50.8,36.5 50.6,36.8 50.4,37.0 50.3,37.2 50.2,37.4 50.0,37.6 49.9,37.8 49.8,38.0 49.7,38.2 49.7,38.4 49.6,38.5" fill="none" stroke="#101012" stroke-width="3.7"/>
<polyline points="51.7,34.1 51.7,34.3 51.7,34.6 51.6,34.8 51.6,35.0 51.5,35.3 51.4,35.5 51.3,35.7 51.2,36.0 51.1,36.2 50.8,36.5 50.6,36.8 50.4,37.0 50.3,37.2 50.2,37.4 50.0,37.6 49.9,37.8 49.8,38.0 49.7,38.2 49.7,38.4 49.6,38.5" fill="none" stroke="#f2f2f2" stroke-width="2.1"/>
<polyline points="53.1,45.9 53.0,46.0 52.8,46.1 52.6,46.3 52.4,46.4 52.2,46.5 51.9,46.6 51.7,46.7 51.5,46.8 51.2,46.9 50.8,46.9 50.4,46.9 50.2,47.0 49.9,47.0 49.7,47.1 49.5,47.2 49.3,47.2 49.1,47.3 48.9,47.3 48.7,47.4 48.5,47.5" fill="none" stroke="#101012" stroke-width="3.7"/>
<polyline points="53.1,45.9 53.0,46.0 52.8,46.1 52.6,46.3 52.4,46.4 52.2,46.5 51.9,46.6 51.7,46.7 51.5,46.8 51.2,46.9 50.8,46.9 50.4,46.9 50.2,47.0 49.9,47.0 49.7,47.1 49.5,47.2 49.3,47.2 49.1,47.3 48.9,47.3 48.7,47.4 48.5,47.5" fill="none" stroke="#f2f2f2" stroke-width="2.1"/>
<polyline points="45.8,55.2 45.6,55.1 45.4,55.1 45.1,55.1 44.9,55.0 44.7,54.9 44.5,54.9 44.2,54.8 44.0,54.7 43.7,54.5 43.5,54.3 43.2,54.0 42.9,53.9 42.7,53.7 42.5,53.6 42.3,53.5 42.1,53.4 41.9,53.3 41.8,53.2 41.6,53.1 41.4,53.0" fill="none" stroke="#101012" stroke-width="3.7"/>
<polyline points="45.8,55.2 45.6,55.1 45.4,55.1 45.1,55.1 44.9,55.0 44.7,54.9 44.5,54.9 44.2,54.8 44.0,54.7 43.7,54.5 43.5,54.3 43.2,54.0 42.9,53.9 42.7,53.7 42.5,53.6 42.3,53.5 42.1,53.4 41.9,53.3 41.8,53.2 41.6,53.1 41.4,53.0" fill="none" stroke="#f2f2f2" stroke-width="2.1"/>
<polyline points="34.1,56.6 33.9,56.4 33.8,56.2 33.7,56.0 33.6,55.8 33.4,55.6 33.3,55.4 33.2,55.2 33.1,54.9 33.1,54.6 33.0,54.3 33.0,53.9 33.0,53.6 32.9,53.4 32.9,53.1 32.8,52.9 32.7,52.7 32.7,52.5 32.6,52.3 32.5,52.1 32.5,51.9" fill="none" stroke="#101012" stroke-width="3.7"/>
<polyline points="34.1,56.6 33.9,56.4 33.8,56.2 33.7,56.0 33.6,55.8 33.4,55.6 33.3,55.4 33.2,55.2 33.1,54.9 33.1,54.6 33.0,54.3 33.0,53.9 33.0,53.6 32.9,53.4 32.9,53.1 32.8,52.9 32.7,52.7 32.7,52.5 32.6,52.3 32.5,52.1 32.5,51.9" fill="none" stroke="#f2f2f2" stroke-width="2.1"/>
<polyline points="24.8,49.3 24.8,49.1 24.8,48.8 24.9,48.6 24.9,48.4 25.0,48.1 25.1,47.9 25.2,47.7 25.3,47.4 25.4,47.2 25.7,46.9 25.9,46.6 26.1,46.4 26.2,46.2 26.3,46.0 26.5,45.8 26.6,45.6 26.7,45.4 26.8,45.2 26.8,45.0 26.9,44.9" fill="none" stroke="#101012" stroke-width="3.7"/>
<polyline points="24.8,49.3 24.8,49.1 24.8,48.8 24.9,48.6 24.9,48.4 25.0,48.1 25.1,47.9 25.2,47.7 25.3,47.4 25.4,47.2 25.7,46.9 25.9,46.6 26.1,46.4 26.2,46.2 26.3,46.0 26.5,45.8 26.6,45.6 26.7,45.4 26.8,45.2 26.8,45.0 26.9,44.9" fill="none" stroke="#f2f2f2" stroke-width="2.1"/>
<polyline points="23.4,37.5 23.5,37.4 23.7,37.3 23.9,37.1 24.1,37.0 24.3,36.9 24.6,36.8 24.8,36.7 25.0,36.6 25.3,36.5 25.7,36.5 26.1,36.5 26.3,36.4 26.6,36.4 26.8,36.3 27.0,36.2 27.2,36.2 27.4,36.1 27.6,36.1 27.8,36.0 28.0,35.9" fill="none" stroke="#101012" stroke-width="3.7"/>
<polyline points="23.4,37.5 23.5,37.4 23.7,37.3 23.9,37.1 24.1,37.0 24.3,36.9 24.6,36.8 24.8,36.7 25.0,36.6 25.3,36.5 25.7,36.5 26.1,36.5 26.3,36.4 26.6,36.4 26.8,36.3 27.0,36.2 27.2,36.2 27.4,36.1 27.6,36.1 27.8,36.0 28.0,35.9" fill="none" stroke="#f2f2f2" stroke-width="2.1"/>
<polyline points="30.7,28.2 30.9,28.3 31.1,28.3 31.4,28.3 31.6,28.4 31.8,28.5 32.0,28.5 32.3,28.6 32.5,28.7 32.8,28.9 33.0,29.1 33.3,29.4 33.6,29.5 33.8,29.7 34.0,29.8 34.2,29.9 34.4,30.0 34.6,30.1 34.7,30.2 34.9,30.3 35.1,30.4" fill="none" stroke="#101012" stroke-width="3.7"/>
<polyline points="30.7,28.2 30.9,28.3 31.1,28.3 31.4,28.3 31.6,28.4 31.8,28.5 32.0,28.5 32.3,28.6 32.5,28.7 32.8,28.9 33.0,29.1 33.3,29.4 33.6,29.5 33.8,29.7 34.0,29.8 34.2,29.9 34.4,30.0 34.6,30.1 34.7,30.2 34.9,30.3 35.1,30.4" fill="none" stroke="#f2f2f2" stroke-width="2.1"/>
<text x="72.2" y="45.8" font-size="19.5" font-weight="bold" fill="#ffffff">A Growing User Base</text>
<text x="72.8" y="68.4" font-size="14.15" fill="#adadb0" stroke="#adadb0" stroke-width="0.25">Total Wallet Addresses vs UOS Market Cap</text>
<!-- grid -->
<line x1="82.5" x2="552.5" y1="112.50" y2="112.50" stroke="#08090b" stroke-width="3.6"/>
<line x1="82.5" x2="552.5" y1="112.50" y2="112.50" stroke="#a2a2a5" stroke-width="1.35"/>
<line x1="82.5" x2="552.5" y1="136.31" y2="136.31" stroke="#08090b" stroke-width="3.6"/>
<line x1="82.5" x2="552.5" y1="136.31" y2="136.31" stroke="#a2a2a5" stroke-width="1.35"/>
<line x1="82.5" x2="552.5" y1="160.12" y2="160.12" stroke="#08090b" stroke-width="3.6"/>
<line x1="82.5" x2="552.5" y1="160.12" y2="160.12" stroke="#a2a2a5" stroke-width="1.35"/>
<line x1="82.5" x2="552.5" y1="183.94" y2="183.94" stroke="#08090b" stroke-width="3.6"/>
<line x1="82.5" x2="552.5" y1="183.94" y2="183.94" stroke="#a2a2a5" stroke-width="1.35"/>
<line x1="82.5" x2="552.5" y1="207.75" y2="207.75" stroke="#08090b" stroke-width="3.6"/>
<line x1="82.5" x2="552.5" y1="207.75" y2="207.75" stroke="#a2a2a5" stroke-width="1.35"/>
<line x1="82.5" x2="552.5" y1="231.56" y2="231.56" stroke="#08090b" stroke-width="3.6"/>
<line x1="82.5" x2="552.5" y1="231.56" y2="231.56" stroke="#a2a2a5" stroke-width="1.35"/>
<line x1="82.5" x2="552.5" y1="255.38" y2="255.38" stroke="#08090b" stroke-width="3.6"/>
<line x1="82.5" x2="552.5" y1="255.38" y2="255.38" stroke="#a2a2a5" stroke-width="1.35"/>
<line x1="82.5" x2="552.5" y1="279.19" y2="279.19" stroke="#08090b" stroke-width="3.6"/>
<line x1="82.5" x2="552.5" y1="279.19" y2="279.19" stroke="#a2a2a5" stroke-width="1.35"/>
<line x1="82.5" x2="552.5" y1="303.00" y2="303.00" stroke="#08090b" stroke-width="3.6"/>
<line x1="82.5" x2="552.5" y1="303.00" y2="303.00" stroke="#a2a2a5" stroke-width="1.35"/>

<!-- area -->
<polygon points="82.0,326.5 82.0,324.5 92.5,323.5 93.0,321.3 166.0,316.9 173.9,316.7 187.8,315.7 201.7,314.7 215.6,313.6 229.4,312.2 237.8,310.8 241.9,309.4 246.7,306.4 251.1,304.6 253.3,303.1 255.0,301.6 257.2,300.4 260.0,299.0 266.7,296.8 275.0,294.0 283.3,289.9 291.7,286.4 300.0,283.6 305.6,280.2 311.1,276.0 318.3,267.8 323.9,261.6 329.4,256.7 337.8,249.1 346.1,242.8 354.4,238.0 362.8,233.8 368.3,230.3 373.9,226.9 379.4,223.4 384.9,217.1 392.3,212.7 398.5,210.9 404.7,209.0 409.6,207.2 412.1,203.5 414.6,197.3 417.0,193.6 419.5,189.9 421.0,185.0 422.0,182.0 423.6,177.0 427.8,171.4 434.6,165.9 442.9,161.8 446.9,159.4 453.8,155.3 459.4,151.1 467.6,146.3 475.9,142.6 484.2,139.4 492.5,136.5 500.8,133.7 506.4,132.6 509.1,129.0 514.6,126.3 522.9,122.1 531.2,118.0 539.5,115.2 546.4,113.0 552.5,110.3 552.5,326.5" fill="#022af0"/>
<!-- axis -->
<line x1="553.9" x2="553.9" y1="110" y2="328" stroke="#08080a" stroke-width="1.2"/>
<line x1="82" x2="552.5" y1="328.4" y2="328.4" stroke="#060608" stroke-width="1"/>
<line x1="82" x2="552.5" y1="326.9" y2="326.9" stroke="#a7aed6" stroke-width="1.4"/>
<line x1="82.4" x2="82.4" y1="326.5" y2="329.8" stroke="#b8b8bc" stroke-width="1"/>
<line x1="155.2" x2="155.2" y1="326.5" y2="329.8" stroke="#b8b8bc" stroke-width="1"/>
<line x1="227.2" x2="227.2" y1="326.5" y2="329.8" stroke="#b8b8bc" stroke-width="1"/>
<line x1="299.7" x2="299.7" y1="326.5" y2="329.8" stroke="#b8b8bc" stroke-width="1"/>
<line x1="371.3" x2="371.3" y1="326.5" y2="329.8" stroke="#b8b8bc" stroke-width="1"/>
<line x1="444.1" x2="444.1" y1="326.5" y2="329.8" stroke="#b8b8bc" stroke-width="1"/>
<line x1="515.7" x2="515.7" y1="326.5" y2="329.8" stroke="#b8b8bc" stroke-width="1"/>

<polyline points="82.0,326.4 140.0,326.3 149.0,326.1 151.0,325.2 166.0,325.0 168.0,323.8 176.0,323.4 185.0,323.6 187.0,324.3 200.0,324.2 215.0,324.1 236.4,324.2 242.2,322.3 246.7,318.7 251.1,314.2 253.3,310.9 255.0,308.7 256.7,311.0 257.8,309.8 259.6,306.4 260.8,310.0 263.2,311.4 265.3,312.8 267.4,316.3 269.4,314.2 270.8,317.0 272.9,315.6 275.7,317.0 278.5,318.4 281.3,317.0 283.3,313.5 285.4,309.3 287.2,312.8 288.9,311.4 291.0,307.9 292.4,306.6 294.2,304.5 295.8,309.3 297.9,311.4 300.0,312.1 302.1,310.7 304.2,312.8 306.3,311.4 308.3,310.0 309.7,311.4 311.1,306.6 313.2,307.9 315.3,306.6 317.4,307.9 318.8,296.8 320.1,295.4 321.5,290.6 322.9,287.8 323.9,292.7 325.0,287.1 326.1,295.4 327.5,288.5 328.5,284.3 329.4,277.6 330.6,249.8 331.5,242.8 332.5,236.6 333.6,246.3 334.7,255.3 335.7,249.8 337.1,236.6 337.8,240.0 339.2,249.8 341.3,255.3 342.6,258.1 343.3,256.0 344.7,263.7 345.8,259.5 347.2,269.2 348.6,274.8 349.6,256.7 351.4,236.6 352.4,246.3 353.8,256.7 355.1,266.4 356.5,272.7 358.3,277.6 359.2,284.4 361.1,298.2 363.4,288.5 364.9,278.0 366.3,262.3 367.6,257.4 369.0,237.3 370.0,228.3 371.1,249.8 372.5,235.9 373.9,226.2 375.0,249.8 376.4,234.5 377.8,240.0 379.4,230.3 380.8,237.3 382.2,247.0 383.6,233.1 384.3,228.1 384.9,220.7 385.6,215.2 386.2,215.8 386.8,222.0 387.7,218.3 388.6,225.7 389.6,220.7 390.5,212.1 391.4,196.0 391.9,177.0 392.6,190.0 393.4,210.0 394.2,200.0 394.8,178.0 395.6,174.0 396.7,163.2 397.5,154.5 398.5,153.3 399.1,144.6 400.0,140.3 401.0,143.4 401.7,148.3 402.2,158.2 402.8,175.0 403.4,190.0 404.1,180.0 405.1,165.0 405.7,168.1 406.2,186.0 406.8,195.0 407.5,201.6 408.4,208.4 409.0,217.0 409.6,219.5 410.9,205.9 411.8,205.3 412.4,217.0 412.8,230.0 413.2,260.0 413.5,291.9 413.9,293.3 416.7,285.0 418.6,293.3 421.4,282.2 424.1,272.5 426.4,247.6 428.6,254.6 430.5,231.1 431.9,225.6 432.6,185.3 434.0,180.4 435.4,195.0 436.4,215.8 437.2,225.6 438.2,220.0 439.2,225.6 440.0,231.1 441.4,242.1 442.8,233.8 444.5,218.0 445.9,218.9 447.4,233.7 448.4,230.8 449.4,237.7 450.9,242.6 452.3,242.1 453.3,246.6 454.8,257.9 455.8,276.7 456.8,269.7 457.8,263.8 459.2,261.8 460.7,255.9 461.7,246.6 462.7,245.6 463.7,251.5 464.7,263.8 465.5,238.2 466.7,243.6 468.1,248.5 468.6,255.9 470.1,243.6 471.6,239.2 473.1,246.6 474.6,250.5 475.0,256.9 476.0,258.4 477.5,256.9 479.5,255.9 481.0,254.0 481.5,247.1 483.4,244.6 484.4,243.6 485.9,255.9 487.4,258.9 488.9,262.8 489.9,260.9 490.8,264.8 491.3,268.8 492.3,267.8 493.3,271.7 494.3,275.7 495.3,278.6 496.3,276.7 497.3,282.6 498.1,291.9 498.8,300.0 499.3,306.2 500.2,302.0 501.4,302.8 502.7,302.4 503.9,303.7 505.2,302.8 506.4,304.1 507.7,303.3 509.3,302.8 510.6,303.7 511.4,307.0 512.2,310.3 513.5,311.6 514.8,309.9 516.0,308.7 517.2,309.9 518.5,309.1 519.8,310.3 521.0,309.1 522.2,308.2 523.5,309.5 524.8,306.6 526.0,305.3 527.2,304.9 528.1,305.8 529.3,306.2 530.6,307.0 531.8,307.8 533.1,306.6 534.3,303.7 535.6,302.4 536.8,305.3 538.1,308.2 539.3,307.0 540.6,304.1 541.8,302.4 543.1,304.9 544.3,304.5 545.6,305.3 546.4,302.0 547.2,297.4 548.1,299.1 548.9,300.3 549.8,301.2 551.0,302.4 552.2,302.0" fill="none" stroke="#2aecec" stroke-width="2.15" stroke-linejoin="round"/>
<g font-size="10" fill="#f0f0f0" stroke="#f0f0f0" stroke-width="0.22">
<text x="73.6" y="329.8" text-anchor="end">0</text>
<text x="73.6" y="306.0" text-anchor="end">5000</text>
<text x="73.6" y="282.2" text-anchor="end">10000</text>
<text x="73.6" y="258.4" text-anchor="end">15000</text>
<text x="73.6" y="234.6" text-anchor="end">20000</text>
<text x="73.6" y="210.7" text-anchor="end">25000</text>
<text x="73.6" y="186.9" text-anchor="end">30000</text>
<text x="73.6" y="163.1" text-anchor="end">35000</text>
<text x="73.6" y="139.3" text-anchor="end">40000</text>
<text x="73.6" y="115.5" text-anchor="end">45000</text>

<text x="82.4" y="341.4" text-anchor="middle">Jul/19</text>
<text x="155.2" y="341.4" text-anchor="middle">Jan/20</text>
<text x="227.2" y="341.4" text-anchor="middle">Jul/20</text>
<text x="299.7" y="341.4" text-anchor="middle">Jan/21</text>
<text x="371.3" y="341.4" text-anchor="middle">Jul/21</text>
<text x="444.1" y="341.4" text-anchor="middle">Jan/22</text>
<text x="515.7" y="341.4" text-anchor="middle">Jul/22</text>

<text x="561.3" y="123.7">900m</text>
<text x="561.3" y="192.6">600m</text>
<text x="561.3" y="261.2">300m</text>
<text x="561.3" y="329.7">0m</text>

<text transform="translate(40.1,212) rotate(-90)" text-anchor="middle">No. of Wallets</text>
<text transform="translate(595.9,212.7) rotate(90)" text-anchor="middle">UOS Market Cap ($)</text>
<rect x="620.2" y="208.1" width="16.3" height="5.9" fill="#022af0"/>
<line x1="619.4" x2="637.8" y1="227.3" y2="227.3" stroke="#28eaea" stroke-width="1.8"/>
<text x="638.7" y="213.8">Wallets</text>
<text x="638.7" y="230.1">Market Cap</text>
</g>
<!-- footer -->
<g font-weight="bold" fill="#c6c6c8">
<text x="21.1" y="370.3" font-size="12.0" textLength="103.2" lengthAdjust="spacingAndGlyphs">Data as of October</text>
<text x="128.0" y="370.3" font-size="12.0" textLength="13.6" lengthAdjust="spacingAndGlyphs">28</text>
<text x="141.7" y="365.6" font-size="8.6" textLength="8.6" lengthAdjust="spacingAndGlyphs">th</text>
<text x="150.5" y="370.3" font-size="12.0">,</text>
<text x="156.0" y="370.3" font-size="12.0" textLength="28.4" lengthAdjust="spacingAndGlyphs">2022</text>
</g>
<text x="21.1" y="387.6" font-size="12.3" fill="#c6c6c8" stroke="#c6c6c8" stroke-width="0.35">Source: Dune Analytics (@Kong1)</text>
<!-- bottom-right logo -->
<polyline points="594.0,365.3 594.0,365.3 594.1,365.3 594.2,365.3 594.2,365.3 594.3,365.3 594.4,365.3 594.4,365.3 594.5,365.3 594.6,365.4 594.6,365.4 594.7,365.4 594.8,365.4 594.8,365.4 594.9,365.4 594.9,365.5 595.0,365.5 595.1,365.5 595.1,365.5 595.2,365.6 595.3,365.6 595.3,365.6 595.4,365.7 595.5,365.7 595.5,365.7 595.6,365.8 595.6,365.8 595.7,365.8 595.8,365.9 595.8,365.9 595.9,366.0 595.9,366.0 596.0,366.0 596.0,366.1 596.1,366.1 596.1,366.2 596.2,366.2 596.2,366.3 596.3,366.3 596.4,366.4 596.4,366.5 596.4,366.5 596.5,366.6 596.5,366.6 596.6,366.7 596.6,366.8 596.7,366.8 596.7,366.9 596.8,366.9 596.8,367.0 596.8,367.1 596.9,367.2 596.9,367.2 596.9,367.3 597.0,367.4 597.0,367.5 597.0,367.5 597.1,367.6 597.1,367.7 597.1,367.8 597.1,368.0 597.1,368.1 597.1,368.2 597.1,368.3 597.2,368.4 597.2,368.5 597.2,368.6 597.2,368.6 597.2,368.7 597.2,368.8 597.3,368.9 597.3,368.9 597.3,369.0 597.3,369.1 597.3,369.1 597.4,369.2 597.4,369.3 597.4,369.3 597.4,369.4 597.4,369.5 597.5,369.5 597.5,369.6 597.5,369.6 597.5,369.7 597.5,369.7 597.6,369.8 597.6,369.8 597.6,369.9 597.6,370.0 597.6,370.0 597.7,370.1 597.7,370.1 597.7,370.2 597.7,370.2 597.7,370.2 597.8,370.3 597.8,370.3 597.8,370.4 597.8,370.4 597.8,370.5 597.9,370.5 597.9,370.6 597.9,370.6 597.9,370.6 597.9,370.7 598.0,370.7 598.0,370.8 598.0,370.8 598.0,370.8 598.0,370.9 598.1,370.9 598.1,370.9 598.1,371.0 598.1,371.0 598.2,371.0 598.2,371.1 598.2,371.1 598.3,371.1 598.3,371.2 598.3,371.2 598.3,371.2 598.4,371.2 598.4,371.3 598.4,371.3 598.5,371.3 598.5,371.4 598.5,371.4 598.5,371.4 598.6,371.4 598.6,371.5 598.7,371.5 598.7,371.5 598.7,371.5 598.8,371.5 598.8,371.6 598.8,371.6 598.9,371.6 598.9,371.6 599.0,371.7 599.0,371.7 599.0,371.7 599.1,371.7 599.1,371.7 599.2,371.8 599.2,371.8 599.3,371.8 599.3,371.8 599.3,371.8 599.4,371.9 599.4,371.9 599.5,371.9 599.5,371.9 599.6,371.9 599.6,372.0 599.7,372.0 599.8,372.0 599.8,372.0 599.9,372.0 599.9,372.0 600.0,372.1 600.0,372.1 600.1,372.1 600.2,372.1 600.2,372.1 600.3,372.2 600.3,372.2 600.4,372.2 600.5,372.2 600.5,372.2 600.6,372.3 600.7,372.3 600.8,372.3 600.8,372.3 600.9,372.3 601.0,372.4 601.1,372.4 601.1,372.4 601.2,372.4 601.3,372.4 601.4,372.4 601.6,372.4 601.7,372.4 601.8,372.5 601.9,372.5 602.0,372.5 602.1,372.5 602.2,372.6 602.2,372.6 602.3,372.6 602.4,372.7 602.5,372.7 602.5,372.7 602.6,372.8 602.7,372.8 602.7,372.9 602.8,372.9 602.9,373.0 602.9,373.0 603.0,373.1 603.0,373.1 603.1,373.1 603.2,373.2 603.2,373.2 603.3,373.3 603.3,373.4 603.4,373.4 603.4,373.5 603.5,373.5 603.5,373.6 603.5,373.6 603.6,373.7 603.6,373.7 603.7,373.8 603.7,373.9 603.8,373.9 603.8,374.0 603.8,374.0 603.9,374.1 603.9,374.2 603.9,374.2 604.0,374.3 604.0,374.3 604.0,374.4 604.0,374.5 604.1,374.5 604.1,374.6 604.1,374.7 604.1,374.7 604.1,374.8 604.2,374.9 604.2,374.9 604.2,375.0 604.2,375.1 604.2,375.1 604.2,375.2 604.2,375.3 604.2,375.3 604.2,375.4 604.2,375.5 604.2,375.5 604.2,375.6 604.2,375.7 604.2,375.7 604.2,375.8 604.2,375.9 604.2,375.9 604.2,376.0 604.2,376.1 604.2,376.1 604.2,376.2 604.2,376.3 604.2,376.3 604.1,376.4 604.1,376.5 604.1,376.5 604.1,376.6 604.1,376.7 604.0,376.7 604.0,376.8 604.0,376.9 604.0,376.9 603.9,377.0 603.9,377.0 603.9,377.1 603.8,377.2 603.8,377.2 603.8,377.3 603.7,377.3 603.7,377.4 603.6,377.5 603.6,377.5 603.5,377.6 603.5,377.6 603.5,377.7 603.4,377.7 603.4,377.8 603.3,377.8 603.3,377.9 603.2,378.0 603.2,378.0 603.1,378.1 603.0,378.1 603.0,378.1 602.9,378.2 602.9,378.2 602.8,378.3 602.7,378.3 602.7,378.4 602.6,378.4 602.5,378.5 602.5,378.5 602.4,378.5 602.3,378.6 602.2,378.6 602.2,378.6 602.1,378.7 602.0,378.7 601.9,378.7 601.8,378.7 601.7,378.8 601.6,378.8 601.4,378.8 601.3,378.8 601.2,378.8 601.1,378.8 601.1,378.8 601.0,378.8 600.9,378.9 600.8,378.9 600.8,378.9 600.7,378.9 600.6,378.9 600.5,379.0 600.5,379.0 600.4,379.0 600.3,379.0 600.3,379.0 600.2,379.1 600.2,379.1 600.1,379.1 600.0,379.1 600.0,379.1 599.9,379.2 599.9,379.2 599.8,379.2 599.8,379.2 599.7,379.2 599.6,379.2 599.6,379.3 599.5,379.3 599.5,379.3 599.4,379.3 599.4,379.3 599.3,379.4 599.3,379.4 599.3,379.4 599.2,379.4 599.2,379.4 599.1,379.5 599.1,379.5 599.0,379.5 599.0,379.5 599.0,379.5 598.9,379.6 598.9,379.6 598.8,379.6 598.8,379.6 598.8,379.7 598.7,379.7 598.7,379.7 598.7,379.7 598.6,379.7 598.6,379.8 598.5,379.8 598.5,379.8 598.5,379.8 598.5,379.9 598.4,379.9 598.4,379.9 598.4,380.0 598.3,380.0 598.3,380.0 598.3,380.0 598.3,380.1 598.2,380.1 598.2,380.1 598.2,380.2 598.1,380.2 598.1,380.2 598.1,380.3 598.1,380.3 598.0,380.3 598.0,380.4 598.0,380.4 598.0,380.4 598.0,380.5 597.9,380.5 597.9,380.6 597.9,380.6 597.9,380.6 597.9,380.7 597.8,380.7 597.8,380.8 597.8,380.8 597.8,380.9 597.8,380.9 597.7,381.0 597.7,381.0 597.7,381.0 597.7,381.1 597.7,381.1 597.6,381.2 597.6,381.2 597.6,381.3 597.6,381.4 597.6,381.4 597.5,381.5 597.5,381.5 597.5,381.6 597.5,381.6 597.5,381.7 597.4,381.7 597.4,381.8 597.4,381.9 597.4,381.9 597.4,382.0 597.3,382.1 597.3,382.1 597.3,382.2 597.3,382.3 597.3,382.3 597.2,382.4 597.2,382.5 597.2,382.6 597.2,382.6 597.2,382.7 597.2,382.8 597.1,382.9 597.1,383.0 597.1,383.1 597.1,383.2 597.1,383.4 597.1,383.5 597.1,383.6 597.0,383.7 597.0,383.7 597.0,383.8 596.9,383.9 596.9,384.0 596.9,384.0 596.8,384.1 596.8,384.2 596.8,384.3 596.7,384.3 596.7,384.4 596.6,384.4 596.6,384.5 596.5,384.6 596.5,384.6 596.4,384.7 596.4,384.7 596.4,384.8 596.3,384.9 596.2,384.9 596.2,385.0 596.1,385.0 596.1,385.1 596.0,385.1 596.0,385.2 595.9,385.2 595.9,385.2 595.8,385.3 595.8,385.3 595.7,385.4 595.6,385.4 595.6,385.4 595.5,385.5 595.5,385.5 595.4,385.5 595.3,385.6 595.3,385.6 595.2,385.6 595.1,385.7 595.1,385.7 595.0,385.7 594.9,385.7 594.9,385.8 594.8,385.8 594.8,385.8 594.7,385.8 594.6,385.8 594.6,385.8 594.5,385.9 594.4,385.9 594.4,385.9 594.3,385.9 594.2,385.9 594.2,385.9 594.1,385.9 594.0,385.9 594.0,385.9 593.9,385.9 593.8,385.9 593.7,385.9 593.7,385.9 593.6,385.9 593.5,385.9 593.5,385.9 593.4,385.9 593.3,385.8 593.3,385.8 593.2,385.8 593.1,385.8 593.1,385.8 593.0,385.8 593.0,385.7 592.9,385.7 592.8,385.7 592.8,385.7 592.7,385.6 592.6,385.6 592.6,385.6 592.5,385.5 592.4,385.5 592.4,385.5 592.3,385.4 592.3,385.4 592.2,385.4 592.1,385.3 592.1,385.3 592.0,385.2 592.0,385.2 591.9,385.2 591.9,385.1 591.8,385.1 591.8,385.0 591.7,385.0 591.7,384.9 591.6,384.9 591.5,384.8 591.5,384.7 591.5,384.7 591.4,384.6 591.4,384.6 591.3,384.5 591.3,384.4 591.2,384.4 591.2,384.3 591.1,384.3 591.1,384.2 591.1,384.1 591.0,384.0 591.0,384.0 591.0,383.9 590.9,383.8 590.9,383.7 590.9,383.7 590.8,383.6 590.8,383.5 590.8,383.4 590.8,383.2 590.8,383.1 590.8,383.0 590.8,382.9 590.7,382.8 590.7,382.7 590.7,382.6 590.7,382.6 590.7,382.5 590.7,382.4 590.6,382.3 590.6,382.3 590.6,382.2 590.6,382.1 590.6,382.1 590.5,382.0 590.5,381.9 590.5,381.9 590.5,381.8 590.5,381.7 590.4,381.7 590.4,381.6 590.4,381.6 590.4,381.5 590.4,381.5 590.3,381.4 590.3,381.4 590.3,381.3 590.3,381.2 590.3,381.2 590.2,381.1 590.2,381.1 590.2,381.0 590.2,381.0 590.2,381.0 590.1,380.9 590.1,380.9 590.1,380.8 590.1,380.8 590.1,380.7 590.0,380.7 590.0,380.6 590.0,380.6 590.0,380.6 590.0,380.5 589.9,380.5 589.9,380.4 589.9,380.4 589.9,380.4 589.9,380.3 589.8,380.3 589.8,380.3 589.8,380.2 589.8,380.2 589.7,380.2 589.7,380.1 589.7,380.1 589.6,380.1 589.6,380.0 589.6,380.0 589.6,380.0 589.5,380.0 589.5,379.9 589.5,379.9 589.4,379.9 589.4,379.8 589.4,379.8 589.4,379.8 589.3,379.8 589.3,379.7 589.2,379.7 589.2,379.7 589.2,379.7 589.1,379.7 589.1,379.6 589.1,379.6 589.0,379.6 589.0,379.6 588.9,379.5 588.9,379.5 588.9,379.5 588.8,379.5 588.8,379.5 588.7,379.4 588.7,379.4 588.6,379.4 588.6,379.4 588.6,379.4 588.5,379.3 588.5,379.3 588.4,379.3 588.4,379.3 588.3,379.3 588.3,379.2 588.2,379.2 588.1,379.2 588.1,379.2 588.0,379.2 588.0,379.2 587.9,379.1 587.9,379.1 587.8,379.1 587.7,379.1 587.7,379.1 587.6,379.0 587.6,379.0 587.5,379.0 587.4,379.0 587.4,379.0 587.3,378.9 587.2,378.9 587.1,378.9 587.1,378.9 587.0,378.9 586.9,378.8 586.8,378.8 586.8,378.8 586.7,378.8 586.6,378.8 586.5,378.8 586.3,378.8 586.2,378.8 586.1,378.7 586.0,378.7 585.9,378.7 585.8,378.7 585.7,378.6 585.7,378.6 585.6,378.6 585.5,378.5 585.4,378.5 585.4,378.5 585.3,378.4 585.2,378.4 585.2,378.3 585.1,378.3 585.0,378.2 585.0,378.2 584.9,378.1 584.9,378.1 584.8,378.1 584.7,378.0 584.7,378.0 584.6,377.9 584.6,377.8 584.5,377.8 584.5,377.7 584.4,377.7 584.4,377.6 584.4,377.6 584.3,377.5 584.3,377.5 584.2,377.4 584.2,377.3 584.1,377.3 584.1,377.2 584.1,377.2 584.0,377.1 584.0,377.0 584.0,377.0 583.9,376.9 583.9,376.9 583.9,376.8 583.9,376.7 583.8,376.7 583.8,376.6 583.8,376.5 583.8,376.5 583.8,376.4 583.7,376.3 583.7,376.3 583.7,376.2 583.7,376.1 583.7,376.1 583.7,376.0 583.7,375.9 583.7,375.9 583.7,375.8 583.7,375.7 583.7,375.7 583.7,375.6 583.7,375.5 583.7,375.5 583.7,375.4 583.7,375.3 583.7,375.3 583.7,375.2 583.7,375.1 583.7,375.1 583.7,375.0 583.7,374.9 583.7,374.9 583.8,374.8 583.8,374.7 583.8,374.7 583.8,374.6 583.8,374.5 583.9,374.5 583.9,374.4 583.9,374.3 583.9,374.3 584.0,374.2 584.0,374.2 584.0,374.1 584.1,374.0 584.1,374.0 584.1,373.9 584.2,373.9 584.2,373.8 584.3,373.7 584.3,373.7 584.4,373.6 584.4,373.6 584.4,373.5 584.5,373.5 584.5,373.4 584.6,373.4 584.6,373.3 584.7,373.2 584.7,373.2 584.8,373.1 584.9,373.1 584.9,373.1 585.0,373.0 585.0,373.0 585.1,372.9 585.2,372.9 585.2,372.8 585.3,372.8 585.4,372.7 585.4,372.7 585.5,372.7 585.6,372.6 585.7,372.6 585.7,372.6 585.8,372.5 585.9,372.5 586.0,372.5 586.1,372.5 586.2,372.4 586.3,372.4 586.5,372.4 586.6,372.4 586.7,372.4 586.8,372.4 586.8,372.4 586.9,372.4 587.0,372.3 587.1,372.3 587.1,372.3 587.2,372.3 587.3,372.3 587.4,372.2 587.4,372.2 587.5,372.2 587.6,372.2 587.6,372.2 587.7,372.1 587.7,372.1 587.8,372.1 587.9,372.1 587.9,372.1 588.0,372.0 588.0,372.0 588.1,372.0 588.1,372.0 588.2,372.0 588.3,372.0 588.3,371.9 588.4,371.9 588.4,371.9 588.5,371.9 588.5,371.9 588.6,371.8 588.6,371.8 588.6,371.8 588.7,371.8 588.7,371.8 588.8,371.7 588.8,371.7 588.9,371.7 588.9,371.7 588.9,371.7 589.0,371.6 589.0,371.6 589.1,371.6 589.1,371.6 589.1,371.5 589.2,371.5 589.2,371.5 589.2,371.5 589.3,371.5 589.3,371.4 589.4,371.4 589.4,371.4 589.4,371.4 589.4,371.3 589.5,371.3 589.5,371.3 589.5,371.2 589.6,371.2 589.6,371.2 589.6,371.2 589.6,371.1 589.7,371.1 589.7,371.1 589.7,371.0 589.8,371.0 589.8,371.0 589.8,370.9 589.8,370.9 589.9,370.9 589.9,370.8 589.9,370.8 589.9,370.8 589.9,370.7 590.0,370.7 590.0,370.6 590.0,370.6 590.0,370.6 590.0,370.5 590.1,370.5 590.1,370.4 590.1,370.4 590.1,370.3 590.1,370.3 590.2,370.2 590.2,370.2 590.2,370.2 590.2,370.1 590.2,370.1 590.3,370.0 590.3,370.0 590.3,369.9 590.3,369.8 590.3,369.8 590.4,369.7 590.4,369.7 590.4,369.6 590.4,369.6 590.4,369.5 590.5,369.5 590.5,369.4 590.5,369.3 590.5,369.3 590.5,369.2 590.6,369.1 590.6,369.1 590.6,369.0 590.6,368.9 590.6,368.9 590.7,368.8 590.7,368.7 590.7,368.6 590.7,368.6 590.7,368.5 590.7,368.4 590.8,368.3 590.8,368.2 590.8,368.1 590.8,368.0 590.8,367.8 590.8,367.7 590.8,367.6 590.9,367.5 590.9,367.5 590.9,367.4 591.0,367.3 591.0,367.2 591.0,367.2 591.1,367.1 591.1,367.0 591.1,366.9 591.2,366.9 591.2,366.8 591.3,366.8 591.3,366.7 591.4,366.6 591.4,366.6 591.5,366.5 591.5,366.5 591.5,366.4 591.6,366.3 591.7,366.3 591.7,366.2 591.8,366.2 591.8,366.1 591.9,366.1 591.9,366.0 592.0,366.0 592.0,366.0 592.1,365.9 592.1,365.9 592.2,365.8 592.3,365.8 592.3,365.8 592.4,365.7 592.4,365.7 592.5,365.7 592.6,365.6 592.6,365.6 592.7,365.6 592.8,365.5 592.8,365.5 592.9,365.5 593.0,365.5 593.0,365.4 593.1,365.4 593.1,365.4 593.2,365.4 593.3,365.4 593.3,365.4 593.4,365.3 593.5,365.3 593.5,365.3 593.6,365.3 593.7,365.3 593.7,365.3 593.8,365.3 593.9,365.3 594.0,365.3" fill="none" stroke="#f2f2f2" stroke-width="1.45"/>
<polyline points="594.0,369.4 594.0,369.4 594.0,369.4 594.1,369.4 594.1,369.4 594.2,369.4 594.2,369.4 594.2,369.4 594.3,369.4 594.3,369.4 594.4,369.4 594.4,369.4 594.4,369.3 594.5,369.3 594.5,369.3 594.6,369.3 594.6,369.3 594.7,369.3 594.7,369.3 594.7,369.3 594.8,369.2 594.8,369.2 594.9,369.2 594.9,369.2 595.0,369.2 595.0,369.2 595.1,369.1 595.1,369.1 595.2,369.1 595.2,369.1 595.3,369.1 595.3,369.0 595.3,369.0 595.4,369.0 595.5,369.0 595.5,368.9 595.6,368.9 595.6,368.9 595.7,368.9 595.7,368.8 595.8,368.8 595.8,368.8 595.9,368.8 595.9,368.7 596.0,368.7 596.1,368.7 596.1,368.6 596.2,368.6 596.2,368.6 596.3,368.5 596.4,368.5 596.4,368.5 596.5,368.4 596.6,368.4 596.6,368.3 596.7,368.3 596.8,368.2 596.8,368.2 596.9,368.1 597.0,368.1 597.1,368.0 597.2,367.9 597.3,367.8 597.4,367.8 597.5,367.7 597.5,367.7 597.6,367.6 597.7,367.6 597.8,367.6 597.9,367.6 597.9,367.5 598.0,367.5 598.1,367.5 598.2,367.5 598.2,367.5 598.3,367.4 598.4,367.4 598.5,367.4 598.5,367.4 598.6,367.4 598.7,367.4 598.8,367.4 598.8,367.4 598.9,367.4 599.0,367.4 599.1,367.4 599.1,367.4 599.2,367.4 599.3,367.4 599.3,367.4 599.4,367.4 599.5,367.4 599.6,367.4 599.6,367.5 599.7,367.5 599.8,367.5 599.8,367.5 599.9,367.5 600.0,367.6 600.0,367.6 600.1,367.6 600.2,367.6 600.2,367.6 600.3,367.7 600.3,367.7 600.4,367.7 600.5,367.8 600.5,367.8 600.6,367.8 600.6,367.9 600.7,367.9 600.8,367.9 600.8,368.0 600.9,368.0 600.9,368.1 601.0,368.1 601.0,368.1 601.1,368.2 601.1,368.2 601.2,368.3 601.2,368.3 601.3,368.4 601.3,368.4 601.4,368.5 601.4,368.5 601.5,368.6 601.5,368.6 601.5,368.7 601.6,368.7 601.6,368.8 601.7,368.8 601.7,368.9 601.7,369.0 601.8,369.0 601.8,369.1 601.8,369.1 601.9,369.2 601.9,369.3 601.9,369.3 601.9,369.4 602.0,369.5 602.0,369.5 602.0,369.6 602.0,369.7 602.0,369.7 602.1,369.8 602.1,369.9 602.1,369.9 602.1,370.0 602.1,370.1 602.1,370.1 602.1,370.2 602.1,370.3 602.1,370.4 602.2,370.4 602.2,370.5 602.2,370.6 602.2,370.6 602.2,370.7 602.2,370.8 602.2,370.9 602.1,370.9 602.1,371.0 602.1,371.1 602.1,371.2 602.1,371.2 602.1,371.3 602.1,371.4 602.1,371.5 602.0,371.5 602.0,371.6 602.0,371.7 602.0,371.8 601.9,371.9 601.9,371.9 601.9,372.0 601.8,372.1 601.8,372.2 601.7,372.3 601.7,372.3 601.6,372.4 601.5,372.5 601.4,372.6 601.3,372.7 601.3,372.8 601.3,372.9 601.2,372.9 601.2,373.0 601.1,373.1 601.1,373.1 601.1,373.2 601.0,373.3 601.0,373.3 601.0,373.4 600.9,373.4 600.9,373.5 600.9,373.6 600.8,373.6 600.8,373.7 600.8,373.7 600.7,373.8 600.7,373.8 600.7,373.9 600.7,373.9 600.6,374.0 600.6,374.0 600.6,374.1 600.6,374.1 600.5,374.2 600.5,374.2 600.5,374.3 600.5,374.3 600.4,374.4 600.4,374.4 600.4,374.5 600.4,374.5 600.4,374.6 600.4,374.6 600.3,374.7 600.3,374.7 600.3,374.8 600.3,374.8 600.3,374.9 600.3,374.9 600.2,374.9 600.2,375.0 600.2,375.0 600.2,375.1 600.2,375.1 600.2,375.1 600.2,375.2 600.2,375.2 600.2,375.3 600.2,375.3 600.2,375.4 600.2,375.4 600.2,375.4 600.2,375.5 600.2,375.5 600.2,375.6 600.2,375.6 600.2,375.6 600.2,375.7 600.2,375.7 600.2,375.8 600.2,375.8 600.2,375.8 600.2,375.9 600.2,375.9 600.2,376.0 600.2,376.0 600.2,376.1 600.2,376.1 600.2,376.1 600.2,376.2 600.2,376.2 600.2,376.3 600.3,376.3 600.3,376.3 600.3,376.4 600.3,376.4 600.3,376.5 600.3,376.5 600.4,376.6 600.4,376.6 600.4,376.7 600.4,376.7 600.4,376.8 600.4,376.8 600.5,376.9 600.5,376.9 600.5,377.0 600.5,377.0 600.6,377.1 600.6,377.1 600.6,377.2 600.6,377.2 600.7,377.3 600.7,377.3 600.7,377.4 600.7,377.4 600.8,377.5 600.8,377.5 600.8,377.6 600.9,377.6 600.9,377.7 600.9,377.8 601.0,377.8 601.0,377.9 601.0,377.9 601.1,378.0 601.1,378.1 601.1,378.1 601.2,378.2 601.2,378.3 601.3,378.3 601.3,378.4 601.3,378.5 601.4,378.6 601.5,378.7 601.6,378.8 601.7,378.9 601.7,378.9 601.8,379.0 601.8,379.1 601.9,379.2 601.9,379.3 601.9,379.3 602.0,379.4 602.0,379.5 602.0,379.6 602.0,379.7 602.1,379.7 602.1,379.8 602.1,379.9 602.1,380.0 602.1,380.0 602.1,380.1 602.1,380.2 602.1,380.3 602.2,380.3 602.2,380.4 602.2,380.5 602.2,380.6 602.2,380.6 602.2,380.7 602.2,380.8 602.1,380.8 602.1,380.9 602.1,381.0 602.1,381.1 602.1,381.1 602.1,381.2 602.1,381.3 602.1,381.3 602.1,381.4 602.0,381.5 602.0,381.5 602.0,381.6 602.0,381.7 602.0,381.7 601.9,381.8 601.9,381.9 601.9,381.9 601.9,382.0 601.8,382.1 601.8,382.1 601.8,382.2 601.7,382.2 601.7,382.3 601.7,382.4 601.6,382.4 601.6,382.5 601.5,382.5 601.5,382.6 601.5,382.6 601.4,382.7 601.4,382.7 601.3,382.8 601.3,382.8 601.2,382.9 601.2,382.9 601.1,383.0 601.1,383.0 601.0,383.1 601.0,383.1 600.9,383.1 600.9,383.2 600.8,383.2 600.8,383.3 600.7,383.3 600.6,383.3 600.6,383.4 600.5,383.4 600.5,383.4 600.4,383.5 600.3,383.5 600.3,383.5 600.2,383.6 600.2,383.6 600.1,383.6 600.0,383.6 600.0,383.6 599.9,383.7 599.8,383.7 599.8,383.7 599.7,383.7 599.6,383.7 599.6,383.8 599.5,383.8 599.4,383.8 599.3,383.8 599.3,383.8 599.2,383.8 599.1,383.8 599.1,383.8 599.0,383.8 598.9,383.8 598.8,383.8 598.8,383.8 598.7,383.8 598.6,383.8 598.5,383.8 598.5,383.8 598.4,383.8 598.3,383.8 598.2,383.7 598.2,383.7 598.1,383.7 598.0,383.7 597.9,383.7 597.9,383.6 597.8,383.6 597.7,383.6 597.6,383.6 597.5,383.5 597.5,383.5 597.4,383.4 597.3,383.4 597.2,383.3 597.1,383.2 597.0,383.1 596.9,383.1 596.8,383.0 596.8,383.0 596.7,382.9 596.6,382.9 596.6,382.8 596.5,382.8 596.4,382.7 596.4,382.7 596.3,382.7 596.2,382.6 596.2,382.6 596.1,382.6 596.1,382.5 596.0,382.5 595.9,382.5 595.9,382.4 595.8,382.4 595.8,382.4 595.7,382.4 595.7,382.3 595.6,382.3 595.6,382.3 595.5,382.3 595.5,382.2 595.4,382.2 595.3,382.2 595.3,382.2 595.3,382.1 595.2,382.1 595.2,382.1 595.1,382.1 595.1,382.1 595.0,382.0 595.0,382.0 594.9,382.0 594.9,382.0 594.8,382.0 594.8,382.0 594.7,381.9 594.7,381.9 594.7,381.9 594.6,381.9 594.6,381.9 594.5,381.9 594.5,381.9 594.4,381.9 594.4,381.8 594.4,381.8 594.3,381.8 594.3,381.8 594.2,381.8 594.2,381.8 594.2,381.8 594.1,381.8 594.1,381.8 594.0,381.8 594.0,381.8 594.0,381.8 593.9,381.8 593.9,381.8 593.8,381.8 593.8,381.8 593.7,381.8 593.7,381.8 593.7,381.8 593.6,381.8 593.6,381.8 593.5,381.8 593.5,381.8 593.5,381.9 593.4,381.9 593.4,381.9 593.3,381.9 593.3,381.9 593.2,381.9 593.2,381.9 593.2,381.9 593.1,382.0 593.1,382.0 593.0,382.0 593.0,382.0 592.9,382.0 592.9,382.0 592.8,382.1 592.8,382.1 592.7,382.1 592.7,382.1 592.6,382.1 592.6,382.2 592.6,382.2 592.5,382.2 592.4,382.2 592.4,382.3 592.3,382.3 592.3,382.3 592.2,382.3 592.2,382.4 592.1,382.4 592.1,382.4 592.0,382.4 592.0,382.5 591.9,382.5 591.8,382.5 591.8,382.6 591.7,382.6 591.7,382.6 591.6,382.7 591.5,382.7 591.5,382.7 591.4,382.8 591.3,382.8 591.3,382.9 591.2,382.9 591.1,383.0 591.1,383.0 591.0,383.1 590.9,383.1 590.8,383.2 590.7,383.3 590.6,383.4 590.5,383.4 590.4,383.5 590.4,383.5 590.3,383.6 590.2,383.6 590.1,383.6 590.0,383.6 590.0,383.7 589.9,383.7 589.8,383.7 589.7,383.7 589.7,383.7 589.6,383.8 589.5,383.8 589.4,383.8 589.4,383.8 589.3,383.8 589.2,383.8 589.1,383.8 589.1,383.8 589.0,383.8 588.9,383.8 588.8,383.8 588.8,383.8 588.7,383.8 588.6,383.8 588.6,383.8 588.5,383.8 588.4,383.8 588.3,383.8 588.3,383.7 588.2,383.7 588.1,383.7 588.1,383.7 588.0,383.7 587.9,383.6 587.9,383.6 587.8,383.6 587.7,383.6 587.7,383.6 587.6,383.5 587.6,383.5 587.5,383.5 587.4,383.4 587.4,383.4 587.3,383.4 587.3,383.3 587.2,383.3 587.1,383.3 587.1,383.2 587.0,383.2 587.0,383.1 586.9,383.1 586.9,383.1 586.8,383.0 586.8,383.0 586.7,382.9 586.7,382.9 586.6,382.8 586.6,382.8 586.5,382.7 586.5,382.7 586.4,382.6 586.4,382.6 586.4,382.5 586.3,382.5 586.3,382.4 586.2,382.4 586.2,382.3 586.2,382.2 586.1,382.2 586.1,382.1 586.1,382.1 586.0,382.0 586.0,381.9 586.0,381.9 586.0,381.8 585.9,381.7 585.9,381.7 585.9,381.6 585.9,381.5 585.9,381.5 585.8,381.4 585.8,381.3 585.8,381.3 585.8,381.2 585.8,381.1 585.8,381.1 585.8,381.0 585.8,380.9 585.8,380.8 585.7,380.8 585.7,380.7 585.7,380.6 585.7,380.6 585.7,380.5 585.7,380.4 585.7,380.3 585.8,380.3 585.8,380.2 585.8,380.1 585.8,380.0 585.8,380.0 585.8,379.9 585.8,379.8 585.8,379.7 585.9,379.7 585.9,379.6 585.9,379.5 585.9,379.4 586.0,379.3 586.0,379.3 586.0,379.2 586.1,379.1 586.1,379.0 586.2,378.9 586.2,378.9 586.3,378.8 586.4,378.7 586.5,378.6 586.6,378.5 586.6,378.4 586.6,378.3 586.7,378.3 586.7,378.2 586.8,378.1 586.8,378.1 586.8,378.0 586.9,377.9 586.9,377.9 586.9,377.8 587.0,377.8 587.0,377.7 587.0,377.6 587.1,377.6 587.1,377.5 587.1,377.5 587.2,377.4 587.2,377.4 587.2,377.3 587.2,377.3 587.3,377.2 587.3,377.2 587.3,377.1 587.3,377.1 587.4,377.0 587.4,377.0 587.4,376.9 587.4,376.9 587.5,376.8 587.5,376.8 587.5,376.7 587.5,376.7 587.5,376.6 587.5,376.6 587.6,376.5 587.6,376.5 587.6,376.4 587.6,376.4 587.6,376.3 587.6,376.3 587.7,376.3 587.7,376.2 587.7,376.2 587.7,376.1 587.7,376.1 587.7,376.1 587.7,376.0 587.7,376.0 587.7,375.9 587.7,375.9 587.7,375.8 587.7,375.8 587.7,375.8 587.7,375.7 587.7,375.7 587.7,375.6 587.8,375.6 587.7,375.6 587.7,375.5 587.7,375.5 587.7,375.4 587.7,375.4 587.7,375.4 587.7,375.3 587.7,375.3 587.7,375.2 587.7,375.2 587.7,375.1 587.7,375.1 587.7,375.1 587.7,375.0 587.7,375.0 587.7,374.9 587.6,374.9 587.6,374.9 587.6,374.8 587.6,374.8 587.6,374.7 587.6,374.7 587.5,374.6 587.5,374.6 587.5,374.5 587.5,374.5 587.5,374.4 587.5,374.4 587.4,374.3 587.4,374.3 587.4,374.2 587.4,374.2 587.3,374.1 587.3,374.1 587.3,374.0 587.3,374.0 587.2,373.9 587.2,373.9 587.2,373.8 587.2,373.8 587.1,373.7 587.1,373.7 587.1,373.6 587.0,373.6 587.0,373.5 587.0,373.4 586.9,373.4 586.9,373.3 586.9,373.3 586.8,373.2 586.8,373.1 586.8,373.1 586.7,373.0 586.7,372.9 586.6,372.9 586.6,372.8 586.6,372.7 586.5,372.6 586.4,372.5 586.3,372.4 586.2,372.3 586.2,372.3 586.1,372.2 586.1,372.1 586.0,372.0 586.0,371.9 586.0,371.9 585.9,371.8 585.9,371.7 585.9,371.6 585.9,371.5 585.8,371.5 585.8,371.4 585.8,371.3 585.8,371.2 585.8,371.2 585.8,371.1 585.8,371.0 585.8,370.9 585.7,370.9 585.7,370.8 585.7,370.7 585.7,370.6 585.7,370.6 585.7,370.5 585.7,370.4 585.8,370.4 585.8,370.3 585.8,370.2 585.8,370.1 585.8,370.1 585.8,370.0 585.8,369.9 585.8,369.9 585.8,369.8 585.9,369.7 585.9,369.7 585.9,369.6 585.9,369.5 585.9,369.5 586.0,369.4 586.0,369.3 586.0,369.3 586.0,369.2 586.1,369.1 586.1,369.1 586.1,369.0 586.2,369.0 586.2,368.9 586.2,368.8 586.3,368.8 586.3,368.7 586.4,368.7 586.4,368.6 586.4,368.6 586.5,368.5 586.5,368.5 586.6,368.4 586.6,368.4 586.7,368.3 586.7,368.3 586.8,368.2 586.8,368.2 586.9,368.1 586.9,368.1 587.0,368.1 587.0,368.0 587.1,368.0 587.1,367.9 587.2,367.9 587.3,367.9 587.3,367.8 587.4,367.8 587.4,367.8 587.5,367.7 587.6,367.7 587.6,367.7 587.7,367.6 587.7,367.6 587.8,367.6 587.9,367.6 587.9,367.6 588.0,367.5 588.1,367.5 588.1,367.5 588.2,367.5 588.3,367.5 588.3,367.4 588.4,367.4 588.5,367.4 588.6,367.4 588.6,367.4 588.7,367.4 588.8,367.4 588.8,367.4 588.9,367.4 589.0,367.4 589.1,367.4 589.1,367.4 589.2,367.4 589.3,367.4 589.4,367.4 589.4,367.4 589.5,367.4 589.6,367.4 589.7,367.5 589.7,367.5 589.8,367.5 589.9,367.5 590.0,367.5 590.0,367.6 590.1,367.6 590.2,367.6 590.3,367.6 590.4,367.7 590.4,367.7 590.5,367.8 590.6,367.8 590.7,367.9 590.8,368.0 590.9,368.1 591.0,368.1 591.1,368.2 591.1,368.2 591.2,368.3 591.3,368.3 591.3,368.4 591.4,368.4 591.5,368.5 591.5,368.5 591.6,368.5 591.7,368.6 591.7,368.6 591.8,368.6 591.8,368.7 591.9,368.7 592.0,368.7 592.0,368.8 592.1,368.8 592.1,368.8 592.2,368.8 592.2,368.9 592.3,368.9 592.3,368.9 592.4,368.9 592.4,369.0 592.5,369.0 592.6,369.0 592.6,369.0 592.6,369.1 592.7,369.1 592.7,369.1 592.8,369.1 592.8,369.1 592.9,369.2 592.9,369.2 593.0,369.2 593.0,369.2 593.1,369.2 593.1,369.2 593.2,369.3 593.2,369.3 593.2,369.3 593.3,369.3 593.3,369.3 593.4,369.3 593.4,369.3 593.5,369.3 593.5,369.4 593.5,369.4 593.6,369.4 593.6,369.4 593.7,369.4 593.7,369.4 593.7,369.4 593.8,369.4 593.8,369.4 593.9,369.4 593.9,369.4 594.0,369.4" fill="none" stroke="#f2f2f2" stroke-width="1.45"/>
<polyline points="596.5,366.5 596.6,366.7 596.6,366.8 596.7,366.9 596.8,367.0 596.9,367.1 596.9,367.3 597.0,367.4 597.1,367.6 597.1,367.7 597.1,368.0 597.1,368.2 597.1,368.4 597.2,368.5 597.2,368.7 597.3,368.8 597.3,368.9 597.3,369.1 597.4,369.2 597.4,369.3 597.4,369.4" fill="none" stroke="#101012" stroke-width="2.45"/>
<polyline points="596.5,366.5 596.6,366.7 596.6,366.8 596.7,366.9 596.8,367.0 596.9,367.1 596.9,367.3 597.0,367.4 597.1,367.6 597.1,367.7 597.1,368.0 597.1,368.2 597.1,368.4 597.2,368.5 597.2,368.7 597.3,368.8 597.3,368.9 597.3,369.1 597.4,369.2 597.4,369.3 597.4,369.4" fill="none" stroke="#f2f2f2" stroke-width="1.45"/>
<polyline points="602.1,371.0 602.1,371.1 602.1,371.3 602.1,371.4 602.0,371.5 602.0,371.7 601.9,371.8 601.9,372.0 601.8,372.1 601.7,372.3 601.6,372.4 601.4,372.6 601.3,372.8 601.2,372.9 601.2,373.0 601.1,373.1 601.0,373.3 601.0,373.4 600.9,373.5 600.8,373.6 600.8,373.7" fill="none" stroke="#101012" stroke-width="2.45"/>
<polyline points="602.1,371.0 602.1,371.1 602.1,371.3 602.1,371.4 602.0,371.5 602.0,371.7 601.9,371.8 601.9,372.0 601.8,372.1 601.7,372.3 601.6,372.4 601.4,372.6 601.3,372.8 601.2,372.9 601.2,373.0 601.1,373.1 601.0,373.3 601.0,373.4 600.9,373.5 600.8,373.6 600.8,373.7" fill="none" stroke="#f2f2f2" stroke-width="1.45"/>
<polyline points="603.0,378.1 602.9,378.2 602.8,378.3 602.7,378.4 602.5,378.5 602.4,378.5 602.3,378.6 602.1,378.6 602.0,378.7 601.8,378.7 601.6,378.8 601.3,378.8 601.2,378.8 601.0,378.8 600.9,378.9 600.7,378.9 600.6,378.9 600.5,379.0 600.4,379.0 600.3,379.0 600.1,379.1" fill="none" stroke="#101012" stroke-width="2.45"/>
<polyline points="603.0,378.1 602.9,378.2 602.8,378.3 602.7,378.4 602.5,378.5 602.4,378.5 602.3,378.6 602.1,378.6 602.0,378.7 601.8,378.7 601.6,378.8 601.3,378.8 601.2,378.8 601.0,378.8 600.9,378.9 600.7,378.9 600.6,378.9 600.5,379.0 600.4,379.0 600.3,379.0 600.1,379.1" fill="none" stroke="#f2f2f2" stroke-width="1.45"/>
<polyline points="598.6,383.8 598.4,383.8 598.3,383.8 598.1,383.7 598.0,383.7 597.9,383.6 597.7,383.6 597.6,383.5 597.4,383.5 597.3,383.4 597.1,383.2 596.9,383.1 596.8,383.0 596.7,382.9 596.5,382.8 596.4,382.7 596.3,382.7 596.2,382.6 596.1,382.6 596.0,382.5 595.9,382.4" fill="none" stroke="#101012" stroke-width="2.45"/>
<polyline points="598.6,383.8 598.4,383.8 598.3,383.8 598.1,383.7 598.0,383.7 597.9,383.6 597.7,383.6 597.6,383.5 597.4,383.5 597.3,383.4 597.1,383.2 596.9,383.1 596.8,383.0 596.7,382.9 596.5,382.8 596.4,382.7 596.3,382.7 596.2,382.6 596.1,382.6 596.0,382.5 595.9,382.4" fill="none" stroke="#f2f2f2" stroke-width="1.45"/>
<polyline points="591.4,384.7 591.3,384.5 591.3,384.4 591.2,384.3 591.1,384.2 591.0,384.1 591.0,383.9 590.9,383.8 590.8,383.6 590.8,383.5 590.8,383.2 590.8,383.0 590.8,382.8 590.7,382.7 590.7,382.5 590.6,382.4 590.6,382.3 590.6,382.1 590.5,382.0 590.5,381.9 590.5,381.8" fill="none" stroke="#101012" stroke-width="2.45"/>
<polyline points="591.4,384.7 591.3,384.5 591.3,384.4 591.2,384.3 591.1,384.2 591.0,384.1 591.0,383.9 590.9,383.8 590.8,383.6 590.8,383.5 590.8,383.2 590.8,383.0 590.8,382.8 590.7,382.7 590.7,382.5 590.6,382.4 590.6,382.3 590.6,382.1 590.5,382.0 590.5,381.9 590.5,381.8" fill="none" stroke="#f2f2f2" stroke-width="1.45"/>
<polyline points="585.8,380.2 585.8,380.1 585.8,379.9 585.8,379.8 585.9,379.7 585.9,379.5 586.0,379.4 586.0,379.2 586.1,379.1 586.2,378.9 586.3,378.8 586.5,378.6 586.6,378.4 586.7,378.3 586.7,378.2 586.8,378.1 586.9,377.9 586.9,377.8 587.0,377.7 587.1,377.6 587.1,377.5" fill="none" stroke="#101012" stroke-width="2.45"/>
<polyline points="585.8,380.2 585.8,380.1 585.8,379.9 585.8,379.8 585.9,379.7 585.9,379.5 586.0,379.4 586.0,379.2 586.1,379.1 586.2,378.9 586.3,378.8 586.5,378.6 586.6,378.4 586.7,378.3 586.7,378.2 586.8,378.1 586.9,377.9 586.9,377.8 587.0,377.7 587.1,377.6 587.1,377.5" fill="none" stroke="#f2f2f2" stroke-width="1.45"/>
<polyline points="584.9,373.1 585.0,373.0 585.1,372.9 585.2,372.8 585.4,372.7 585.5,372.7 585.6,372.6 585.8,372.6 585.9,372.5 586.1,372.5 586.3,372.4 586.6,372.4 586.7,372.4 586.9,372.4 587.0,372.3 587.2,372.3 587.3,372.3 587.4,372.2 587.5,372.2 587.6,372.2 587.8,372.1" fill="none" stroke="#101012" stroke-width="2.45"/>
<polyline points="584.9,373.1 585.0,373.0 585.1,372.9 585.2,372.8 585.4,372.7 585.5,372.7 585.6,372.6 585.8,372.6 585.9,372.5 586.1,372.5 586.3,372.4 586.6,372.4 586.7,372.4 586.9,372.4 587.0,372.3 587.2,372.3 587.3,372.3 587.4,372.2 587.5,372.2 587.6,372.2 587.8,372.1" fill="none" stroke="#f2f2f2" stroke-width="1.45"/>
<polyline points="589.3,367.4 589.5,367.4 589.6,367.4 589.8,367.5 589.9,367.5 590.0,367.6 590.2,367.6 590.3,367.7 590.5,367.7 590.6,367.8 590.8,368.0 591.0,368.1 591.1,368.2 591.2,368.3 591.4,368.4 591.5,368.5 591.6,368.5 591.7,368.6 591.8,368.6 591.9,368.7 592.0,368.8" fill="none" stroke="#101012" stroke-width="2.45"/>
<polyline points="589.3,367.4 589.5,367.4 589.6,367.4 589.8,367.5 589.9,367.5 590.0,367.6 590.2,367.6 590.3,367.7 590.5,367.7 590.6,367.8 590.8,368.0 591.0,368.1 591.1,368.2 591.2,368.3 591.4,368.4 591.5,368.5 591.6,368.5 591.7,368.6 591.8,368.6 591.9,368.7 592.0,368.8" fill="none" stroke="#f2f2f2" stroke-width="1.45"/>
<g fill="none" stroke="#f2f2f2" stroke-width="1.25">
<path d="M612.2 372.45H614A2.3 2.95 0 0 1 614 378.35H612.2M612.2 375.4H613.9"/>
<path d="M618.3 372.45H624.1M618.3 375.4H623.7M618.3 378.35H624.1"/>
<path d="M626.9 371.8V378.35H631.2"/>
<path d="M634.2 379V372.45H637.5A1.6 1.48 0 0 1 637.5 375.4H634.2"/>
<path d="M641.3 371.8V379M646.3 371.8V379M641.3 375.55H646.3"/>
<path d="M649.8 371.8V379"/>
<path d="M656.6 372.45H658.5A2.3 2.95 0 0 1 658.5 378.35H656.6M656.6 375.4H658.2"/>
<path d="M664.4 371.8V379"/>
<path d="M673.2 373.3A3.05 3.05 0 1 0 673.95 375.6H671.3"/>
<path d="M677.6 371.8V379"/>
<path d="M680.3 372.45H685.3M682.8 372.45V379"/>
<path d="M686.9 379L690 372.1L693.1 379"/>
<path d="M695.9 371.8V378.35H700.1"/>
</g>
</svg>
</body></html>
